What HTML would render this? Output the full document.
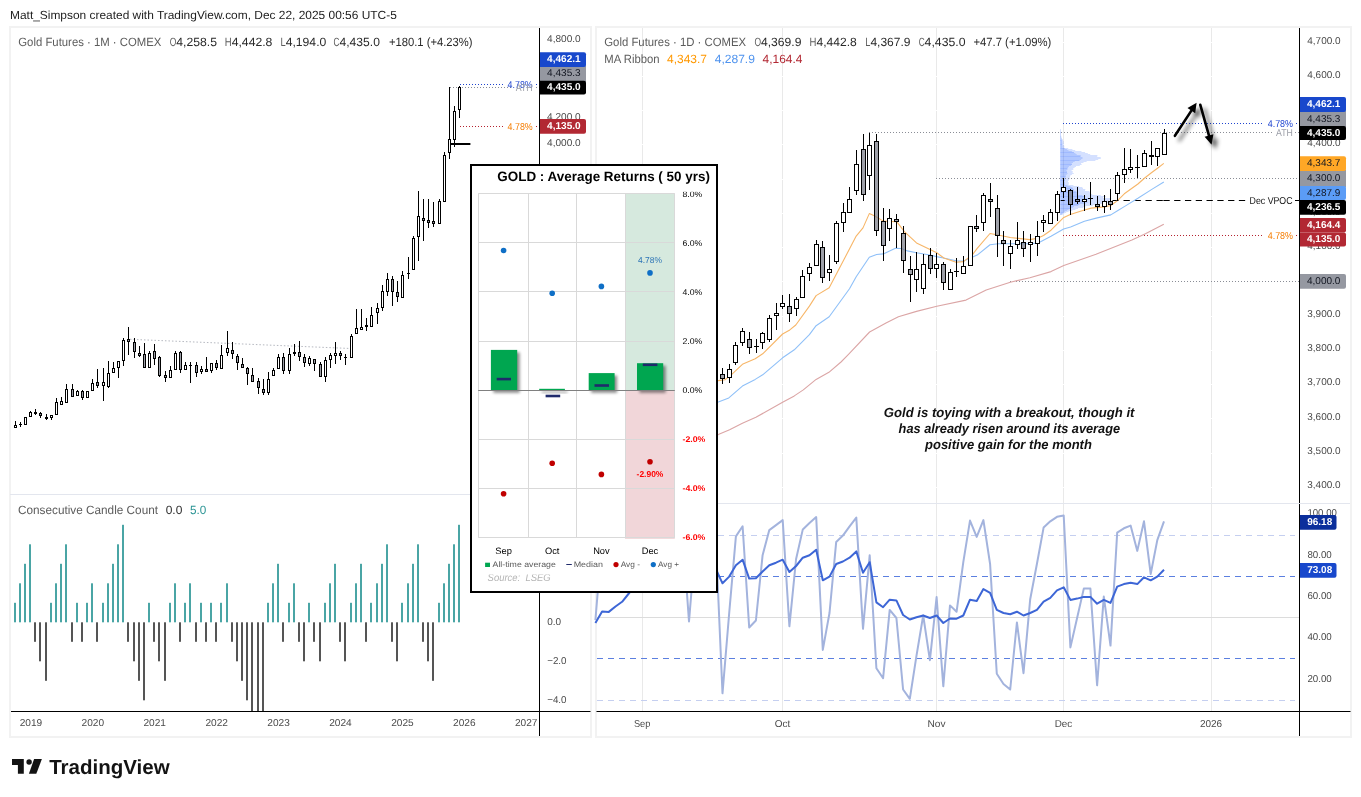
<!DOCTYPE html>
<html><head><meta charset="utf-8"><title>Gold Futures chart</title>
<style>html,body{margin:0;padding:0;background:#fff}svg{display:block}text{font-family:'Liberation Sans', Arial, sans-serif;white-space:pre;text-rendering:geometricPrecision}</style></head>
<body>
<svg width="1361" height="797" viewBox="0 0 1361 797">
<rect x="0" y="0" width="1361" height="797" fill="#fff"/>
<rect x="10" y="27" width="581" height="710" fill="#fff" stroke="#f2f2f2" stroke-width="2"/>
<rect x="596" y="27" width="755" height="710" fill="#fff" stroke="#f2f2f2" stroke-width="2"/>
<line x1="642.5" y1="28" x2="642.5" y2="711" stroke="#e9e9e9" stroke-width="1"/>
<line x1="782.5" y1="28" x2="782.5" y2="711" stroke="#e9e9e9" stroke-width="1"/>
<line x1="936.5" y1="28" x2="936.5" y2="711" stroke="#e9e9e9" stroke-width="1"/>
<line x1="1063.5" y1="28" x2="1063.5" y2="711" stroke="#e9e9e9" stroke-width="1"/>
<line x1="1211.5" y1="28" x2="1211.5" y2="711" stroke="#e9e9e9" stroke-width="1"/>
<line x1="597" y1="42.5" x2="1299" y2="42.5" stroke="#fff" stroke-width="1"/>
<line x1="597" y1="76.5" x2="1299" y2="76.5" stroke="#fff" stroke-width="1"/>
<line x1="597" y1="110.5" x2="1299" y2="110.5" stroke="#fff" stroke-width="1"/>
<line x1="597" y1="144.5" x2="1299" y2="144.5" stroke="#fff" stroke-width="1"/>
<line x1="597" y1="179.5" x2="1299" y2="179.5" stroke="#fff" stroke-width="1"/>
<line x1="597" y1="213.5" x2="1299" y2="213.5" stroke="#fff" stroke-width="1"/>
<line x1="597" y1="247.5" x2="1299" y2="247.5" stroke="#fff" stroke-width="1"/>
<line x1="597" y1="281.5" x2="1299" y2="281.5" stroke="#fff" stroke-width="1"/>
<line x1="597" y1="316.5" x2="1299" y2="316.5" stroke="#fff" stroke-width="1"/>
<line x1="597" y1="350.5" x2="1299" y2="350.5" stroke="#fff" stroke-width="1"/>
<line x1="597" y1="384.5" x2="1299" y2="384.5" stroke="#fff" stroke-width="1"/>
<line x1="597" y1="418.5" x2="1299" y2="418.5" stroke="#fff" stroke-width="1"/>
<line x1="597" y1="453.5" x2="1299" y2="453.5" stroke="#fff" stroke-width="1"/>
<line x1="597" y1="487.5" x2="1299" y2="487.5" stroke="#fff" stroke-width="1"/>
<line x1="597" y1="503.5" x2="1350" y2="503.5" stroke="#e0e3eb" stroke-width="1"/>
<rect x="1060.2" y="129.0" width="0.5" height="1" fill="#2962ff" fill-opacity="0.2"/>
<rect x="1060.2" y="129.0" width="0.3" height="1" fill="#2962ff" fill-opacity="0.2"/>
<rect x="1060.2" y="130.0" width="0.6" height="1" fill="#2962ff" fill-opacity="0.2"/>
<rect x="1060.2" y="130.0" width="0.3" height="1" fill="#2962ff" fill-opacity="0.2"/>
<rect x="1060.2" y="131.0" width="0.7" height="1" fill="#2962ff" fill-opacity="0.2"/>
<rect x="1060.2" y="131.0" width="0.4" height="1" fill="#2962ff" fill-opacity="0.2"/>
<rect x="1060.2" y="132.0" width="0.8" height="1" fill="#2962ff" fill-opacity="0.2"/>
<rect x="1060.2" y="132.0" width="0.4" height="1" fill="#2962ff" fill-opacity="0.2"/>
<rect x="1060.2" y="132.0" width="0.4" height="1" fill="#2962ff" fill-opacity="0.12"/>
<rect x="1060.2" y="133.0" width="0.8" height="1" fill="#2962ff" fill-opacity="0.2"/>
<rect x="1060.2" y="133.0" width="0.5" height="1" fill="#2962ff" fill-opacity="0.2"/>
<rect x="1060.2" y="134.0" width="0.8" height="1" fill="#2962ff" fill-opacity="0.2"/>
<rect x="1060.2" y="134.0" width="0.4" height="1" fill="#2962ff" fill-opacity="0.2"/>
<rect x="1060.2" y="135.0" width="0.9" height="1" fill="#2962ff" fill-opacity="0.2"/>
<rect x="1060.2" y="135.0" width="0.5" height="1" fill="#2962ff" fill-opacity="0.2"/>
<rect x="1060.2" y="136.0" width="1.1" height="1" fill="#2962ff" fill-opacity="0.2"/>
<rect x="1060.2" y="136.0" width="0.6" height="1" fill="#2962ff" fill-opacity="0.2"/>
<rect x="1060.2" y="136.0" width="0.6" height="1" fill="#2962ff" fill-opacity="0.12"/>
<rect x="1060.2" y="137.0" width="1.4" height="1" fill="#2962ff" fill-opacity="0.2"/>
<rect x="1060.2" y="137.0" width="0.8" height="1" fill="#2962ff" fill-opacity="0.2"/>
<rect x="1060.2" y="138.0" width="1.8" height="1" fill="#2962ff" fill-opacity="0.2"/>
<rect x="1060.2" y="138.0" width="1.0" height="1" fill="#2962ff" fill-opacity="0.2"/>
<rect x="1060.2" y="139.0" width="2.5" height="1" fill="#2962ff" fill-opacity="0.2"/>
<rect x="1060.2" y="139.0" width="1.4" height="1" fill="#2962ff" fill-opacity="0.2"/>
<rect x="1060.2" y="140.0" width="2.8" height="1" fill="#2962ff" fill-opacity="0.2"/>
<rect x="1060.2" y="140.0" width="1.5" height="1" fill="#2962ff" fill-opacity="0.2"/>
<rect x="1060.2" y="140.0" width="1.5" height="1" fill="#2962ff" fill-opacity="0.12"/>
<rect x="1060.2" y="141.0" width="3.4" height="1" fill="#2962ff" fill-opacity="0.2"/>
<rect x="1060.2" y="141.0" width="1.8" height="1" fill="#2962ff" fill-opacity="0.2"/>
<rect x="1060.2" y="142.0" width="3.4" height="1" fill="#2962ff" fill-opacity="0.2"/>
<rect x="1060.2" y="142.0" width="1.9" height="1" fill="#2962ff" fill-opacity="0.2"/>
<rect x="1060.2" y="143.0" width="3.6" height="1" fill="#2962ff" fill-opacity="0.2"/>
<rect x="1060.2" y="143.0" width="2.0" height="1" fill="#2962ff" fill-opacity="0.2"/>
<rect x="1060.2" y="144.0" width="3.5" height="1" fill="#2962ff" fill-opacity="0.2"/>
<rect x="1060.2" y="144.0" width="1.9" height="1" fill="#2962ff" fill-opacity="0.2"/>
<rect x="1060.2" y="144.0" width="1.9" height="1" fill="#2962ff" fill-opacity="0.12"/>
<rect x="1060.2" y="145.0" width="3.9" height="1" fill="#2962ff" fill-opacity="0.2"/>
<rect x="1060.2" y="145.0" width="2.1" height="1" fill="#2962ff" fill-opacity="0.2"/>
<rect x="1060.2" y="146.0" width="4.1" height="1" fill="#2962ff" fill-opacity="0.2"/>
<rect x="1060.2" y="146.0" width="2.3" height="1" fill="#2962ff" fill-opacity="0.2"/>
<rect x="1060.2" y="147.0" width="4.0" height="1" fill="#2962ff" fill-opacity="0.2"/>
<rect x="1060.2" y="147.0" width="2.2" height="1" fill="#2962ff" fill-opacity="0.2"/>
<rect x="1060.2" y="148.0" width="8.0" height="1" fill="#2962ff" fill-opacity="0.2"/>
<rect x="1060.2" y="148.0" width="4.4" height="1" fill="#2962ff" fill-opacity="0.2"/>
<rect x="1060.2" y="148.0" width="4.4" height="1" fill="#2962ff" fill-opacity="0.12"/>
<rect x="1060.2" y="149.0" width="12.2" height="1" fill="#2962ff" fill-opacity="0.2"/>
<rect x="1060.2" y="149.0" width="6.7" height="1" fill="#2962ff" fill-opacity="0.2"/>
<rect x="1060.2" y="150.0" width="15.0" height="1" fill="#2962ff" fill-opacity="0.2"/>
<rect x="1060.2" y="150.0" width="8.3" height="1" fill="#2962ff" fill-opacity="0.2"/>
<rect x="1060.2" y="151.0" width="21.3" height="1" fill="#2962ff" fill-opacity="0.2"/>
<rect x="1060.2" y="151.0" width="11.7" height="1" fill="#2962ff" fill-opacity="0.2"/>
<rect x="1060.2" y="152.0" width="24.9" height="1" fill="#2962ff" fill-opacity="0.2"/>
<rect x="1060.2" y="152.0" width="13.7" height="1" fill="#2962ff" fill-opacity="0.2"/>
<rect x="1060.2" y="152.0" width="13.7" height="1" fill="#2962ff" fill-opacity="0.12"/>
<rect x="1060.2" y="153.0" width="27.6" height="1" fill="#2962ff" fill-opacity="0.2"/>
<rect x="1060.2" y="153.0" width="15.2" height="1" fill="#2962ff" fill-opacity="0.2"/>
<rect x="1060.2" y="154.0" width="30.0" height="1" fill="#2962ff" fill-opacity="0.2"/>
<rect x="1060.2" y="154.0" width="16.5" height="1" fill="#2962ff" fill-opacity="0.2"/>
<rect x="1060.2" y="155.0" width="37.2" height="1" fill="#2962ff" fill-opacity="0.2"/>
<rect x="1060.2" y="155.0" width="20.5" height="1" fill="#2962ff" fill-opacity="0.2"/>
<rect x="1060.2" y="156.0" width="37.0" height="1" fill="#2962ff" fill-opacity="0.2"/>
<rect x="1060.2" y="156.0" width="20.3" height="1" fill="#2962ff" fill-opacity="0.2"/>
<rect x="1060.2" y="156.0" width="20.3" height="1" fill="#2962ff" fill-opacity="0.12"/>
<rect x="1060.2" y="157.0" width="40.5" height="1" fill="#2962ff" fill-opacity="0.2"/>
<rect x="1060.2" y="157.0" width="22.3" height="1" fill="#2962ff" fill-opacity="0.2"/>
<rect x="1060.2" y="158.0" width="40.6" height="1" fill="#2962ff" fill-opacity="0.2"/>
<rect x="1060.2" y="158.0" width="22.3" height="1" fill="#2962ff" fill-opacity="0.2"/>
<rect x="1060.2" y="159.0" width="38.0" height="1" fill="#2962ff" fill-opacity="0.2"/>
<rect x="1060.2" y="159.0" width="20.9" height="1" fill="#2962ff" fill-opacity="0.2"/>
<rect x="1060.2" y="160.0" width="35.2" height="1" fill="#2962ff" fill-opacity="0.2"/>
<rect x="1060.2" y="160.0" width="19.3" height="1" fill="#2962ff" fill-opacity="0.2"/>
<rect x="1060.2" y="160.0" width="19.3" height="1" fill="#2962ff" fill-opacity="0.12"/>
<rect x="1060.2" y="161.0" width="26.4" height="1" fill="#2962ff" fill-opacity="0.2"/>
<rect x="1060.2" y="161.0" width="14.5" height="1" fill="#2962ff" fill-opacity="0.2"/>
<rect x="1060.2" y="162.0" width="23.3" height="1" fill="#2962ff" fill-opacity="0.2"/>
<rect x="1060.2" y="162.0" width="12.8" height="1" fill="#2962ff" fill-opacity="0.2"/>
<rect x="1060.2" y="163.0" width="20.9" height="1" fill="#2962ff" fill-opacity="0.2"/>
<rect x="1060.2" y="163.0" width="11.5" height="1" fill="#2962ff" fill-opacity="0.2"/>
<rect x="1060.2" y="164.0" width="21.4" height="1" fill="#2962ff" fill-opacity="0.2"/>
<rect x="1060.2" y="164.0" width="11.8" height="1" fill="#2962ff" fill-opacity="0.2"/>
<rect x="1060.2" y="164.0" width="11.8" height="1" fill="#2962ff" fill-opacity="0.12"/>
<rect x="1060.2" y="165.0" width="19.6" height="1" fill="#2962ff" fill-opacity="0.2"/>
<rect x="1060.2" y="165.0" width="10.8" height="1" fill="#2962ff" fill-opacity="0.2"/>
<rect x="1060.2" y="166.0" width="15.8" height="1" fill="#2962ff" fill-opacity="0.2"/>
<rect x="1060.2" y="166.0" width="8.7" height="1" fill="#2962ff" fill-opacity="0.2"/>
<rect x="1060.2" y="167.0" width="14.4" height="1" fill="#2962ff" fill-opacity="0.2"/>
<rect x="1060.2" y="167.0" width="7.9" height="1" fill="#2962ff" fill-opacity="0.2"/>
<rect x="1060.2" y="168.0" width="13.1" height="1" fill="#2962ff" fill-opacity="0.2"/>
<rect x="1060.2" y="168.0" width="7.2" height="1" fill="#2962ff" fill-opacity="0.2"/>
<rect x="1060.2" y="168.0" width="7.2" height="1" fill="#2962ff" fill-opacity="0.12"/>
<rect x="1060.2" y="169.0" width="13.1" height="1" fill="#2962ff" fill-opacity="0.2"/>
<rect x="1060.2" y="169.0" width="7.2" height="1" fill="#2962ff" fill-opacity="0.2"/>
<rect x="1060.2" y="170.0" width="11.4" height="1" fill="#2962ff" fill-opacity="0.2"/>
<rect x="1060.2" y="170.0" width="6.3" height="1" fill="#2962ff" fill-opacity="0.2"/>
<rect x="1060.2" y="171.0" width="12.5" height="1" fill="#2962ff" fill-opacity="0.2"/>
<rect x="1060.2" y="171.0" width="6.8" height="1" fill="#2962ff" fill-opacity="0.2"/>
<rect x="1060.2" y="172.0" width="12.4" height="1" fill="#2962ff" fill-opacity="0.2"/>
<rect x="1060.2" y="172.0" width="6.8" height="1" fill="#2962ff" fill-opacity="0.2"/>
<rect x="1060.2" y="172.0" width="6.8" height="1" fill="#2962ff" fill-opacity="0.12"/>
<rect x="1060.2" y="173.0" width="13.5" height="1" fill="#2962ff" fill-opacity="0.2"/>
<rect x="1060.2" y="173.0" width="7.4" height="1" fill="#2962ff" fill-opacity="0.2"/>
<rect x="1060.2" y="174.0" width="11.8" height="1" fill="#2962ff" fill-opacity="0.2"/>
<rect x="1060.2" y="174.0" width="6.5" height="1" fill="#2962ff" fill-opacity="0.2"/>
<rect x="1060.2" y="175.0" width="10.2" height="1" fill="#2962ff" fill-opacity="0.2"/>
<rect x="1060.2" y="175.0" width="5.6" height="1" fill="#2962ff" fill-opacity="0.2"/>
<rect x="1060.2" y="176.0" width="9.9" height="1" fill="#2962ff" fill-opacity="0.2"/>
<rect x="1060.2" y="176.0" width="5.5" height="1" fill="#2962ff" fill-opacity="0.2"/>
<rect x="1060.2" y="176.0" width="5.5" height="1" fill="#2962ff" fill-opacity="0.12"/>
<rect x="1060.2" y="177.0" width="9.6" height="1" fill="#2962ff" fill-opacity="0.2"/>
<rect x="1060.2" y="177.0" width="5.3" height="1" fill="#2962ff" fill-opacity="0.2"/>
<rect x="1060.2" y="178.0" width="9.8" height="1" fill="#2962ff" fill-opacity="0.2"/>
<rect x="1060.2" y="178.0" width="5.4" height="1" fill="#2962ff" fill-opacity="0.2"/>
<rect x="1060.2" y="179.0" width="9.0" height="1" fill="#2962ff" fill-opacity="0.2"/>
<rect x="1060.2" y="179.0" width="5.0" height="1" fill="#2962ff" fill-opacity="0.2"/>
<rect x="1060.2" y="180.0" width="8.5" height="1" fill="#2962ff" fill-opacity="0.2"/>
<rect x="1060.2" y="180.0" width="4.7" height="1" fill="#2962ff" fill-opacity="0.2"/>
<rect x="1060.2" y="180.0" width="4.7" height="1" fill="#2962ff" fill-opacity="0.12"/>
<rect x="1060.2" y="181.0" width="7.8" height="1" fill="#2962ff" fill-opacity="0.2"/>
<rect x="1060.2" y="181.0" width="4.3" height="1" fill="#2962ff" fill-opacity="0.2"/>
<rect x="1060.2" y="182.0" width="8.5" height="1" fill="#2962ff" fill-opacity="0.2"/>
<rect x="1060.2" y="182.0" width="4.7" height="1" fill="#2962ff" fill-opacity="0.2"/>
<rect x="1060.2" y="183.0" width="8.6" height="1" fill="#2962ff" fill-opacity="0.2"/>
<rect x="1060.2" y="183.0" width="4.7" height="1" fill="#2962ff" fill-opacity="0.2"/>
<rect x="1060.2" y="184.0" width="8.4" height="1" fill="#2962ff" fill-opacity="0.2"/>
<rect x="1060.2" y="184.0" width="4.6" height="1" fill="#2962ff" fill-opacity="0.2"/>
<rect x="1060.2" y="184.0" width="4.6" height="1" fill="#2962ff" fill-opacity="0.12"/>
<rect x="1060.2" y="185.0" width="13.2" height="1" fill="#2962ff" fill-opacity="0.2"/>
<rect x="1060.2" y="185.0" width="7.3" height="1" fill="#2962ff" fill-opacity="0.2"/>
<rect x="1060.2" y="186.0" width="18.8" height="1" fill="#2962ff" fill-opacity="0.2"/>
<rect x="1060.2" y="186.0" width="10.3" height="1" fill="#2962ff" fill-opacity="0.2"/>
<rect x="1060.2" y="187.0" width="22.2" height="1" fill="#2962ff" fill-opacity="0.2"/>
<rect x="1060.2" y="187.0" width="12.2" height="1" fill="#2962ff" fill-opacity="0.2"/>
<rect x="1060.2" y="188.0" width="22.8" height="1" fill="#2962ff" fill-opacity="0.2"/>
<rect x="1060.2" y="188.0" width="12.6" height="1" fill="#2962ff" fill-opacity="0.2"/>
<rect x="1060.2" y="188.0" width="12.6" height="1" fill="#2962ff" fill-opacity="0.12"/>
<rect x="1060.2" y="189.0" width="25.1" height="1" fill="#2962ff" fill-opacity="0.2"/>
<rect x="1060.2" y="189.0" width="13.8" height="1" fill="#2962ff" fill-opacity="0.2"/>
<rect x="1060.2" y="190.0" width="24.8" height="1" fill="#2962ff" fill-opacity="0.2"/>
<rect x="1060.2" y="190.0" width="13.6" height="1" fill="#2962ff" fill-opacity="0.2"/>
<rect x="1060.2" y="191.0" width="29.2" height="1" fill="#2962ff" fill-opacity="0.2"/>
<rect x="1060.2" y="191.0" width="16.0" height="1" fill="#2962ff" fill-opacity="0.2"/>
<rect x="1060.2" y="192.0" width="29.7" height="1" fill="#2962ff" fill-opacity="0.2"/>
<rect x="1060.2" y="192.0" width="16.4" height="1" fill="#2962ff" fill-opacity="0.2"/>
<rect x="1060.2" y="192.0" width="16.4" height="1" fill="#2962ff" fill-opacity="0.12"/>
<rect x="1060.2" y="193.0" width="30.0" height="1" fill="#2962ff" fill-opacity="0.2"/>
<rect x="1060.2" y="193.0" width="16.5" height="1" fill="#2962ff" fill-opacity="0.2"/>
<rect x="1060.2" y="194.0" width="32.0" height="1" fill="#2962ff" fill-opacity="0.2"/>
<rect x="1060.2" y="194.0" width="17.6" height="1" fill="#2962ff" fill-opacity="0.2"/>
<rect x="1060.2" y="195.0" width="40.5" height="1" fill="#2962ff" fill-opacity="0.2"/>
<rect x="1060.2" y="195.0" width="22.3" height="1" fill="#2962ff" fill-opacity="0.2"/>
<rect x="1060.2" y="196.0" width="45.6" height="1" fill="#2962ff" fill-opacity="0.2"/>
<rect x="1060.2" y="196.0" width="25.1" height="1" fill="#2962ff" fill-opacity="0.2"/>
<rect x="1060.2" y="196.0" width="25.1" height="1" fill="#2962ff" fill-opacity="0.12"/>
<rect x="1060.2" y="197.0" width="42.8" height="1" fill="#2962ff" fill-opacity="0.2"/>
<rect x="1060.2" y="197.0" width="23.6" height="1" fill="#2962ff" fill-opacity="0.2"/>
<rect x="1060.2" y="198.0" width="51.1" height="1" fill="#2962ff" fill-opacity="0.2"/>
<rect x="1060.2" y="198.0" width="28.1" height="1" fill="#2962ff" fill-opacity="0.2"/>
<rect x="1060.2" y="199.0" width="50.8" height="1" fill="#2962ff" fill-opacity="0.2"/>
<rect x="1060.2" y="199.0" width="28.0" height="1" fill="#2962ff" fill-opacity="0.2"/>
<rect x="1060.2" y="200.0" width="49.1" height="1" fill="#2962ff" fill-opacity="0.2"/>
<rect x="1060.2" y="200.0" width="27.0" height="1" fill="#2962ff" fill-opacity="0.2"/>
<rect x="1060.2" y="200.0" width="27.0" height="1" fill="#2962ff" fill-opacity="0.12"/>
<rect x="1060.2" y="201.0" width="48.3" height="1" fill="#2962ff" fill-opacity="0.2"/>
<rect x="1060.2" y="201.0" width="26.5" height="1" fill="#2962ff" fill-opacity="0.2"/>
<rect x="1060.2" y="202.0" width="49.9" height="1" fill="#2962ff" fill-opacity="0.2"/>
<rect x="1060.2" y="202.0" width="27.4" height="1" fill="#2962ff" fill-opacity="0.2"/>
<rect x="1060.2" y="203.0" width="46.0" height="1" fill="#2962ff" fill-opacity="0.2"/>
<rect x="1060.2" y="203.0" width="25.3" height="1" fill="#2962ff" fill-opacity="0.2"/>
<rect x="1060.2" y="204.0" width="34.8" height="1" fill="#2962ff" fill-opacity="0.2"/>
<rect x="1060.2" y="204.0" width="19.1" height="1" fill="#2962ff" fill-opacity="0.2"/>
<rect x="1060.2" y="204.0" width="19.1" height="1" fill="#2962ff" fill-opacity="0.12"/>
<rect x="1060.2" y="205.0" width="32.6" height="1" fill="#2962ff" fill-opacity="0.2"/>
<rect x="1060.2" y="205.0" width="17.9" height="1" fill="#2962ff" fill-opacity="0.2"/>
<rect x="1060.2" y="206.0" width="25.1" height="1" fill="#2962ff" fill-opacity="0.2"/>
<rect x="1060.2" y="206.0" width="13.8" height="1" fill="#2962ff" fill-opacity="0.2"/>
<rect x="1060.2" y="207.0" width="23.0" height="1" fill="#2962ff" fill-opacity="0.2"/>
<rect x="1060.2" y="207.0" width="12.6" height="1" fill="#2962ff" fill-opacity="0.2"/>
<rect x="1060.2" y="208.0" width="17.8" height="1" fill="#2962ff" fill-opacity="0.2"/>
<rect x="1060.2" y="208.0" width="9.8" height="1" fill="#2962ff" fill-opacity="0.2"/>
<rect x="1060.2" y="208.0" width="9.8" height="1" fill="#2962ff" fill-opacity="0.12"/>
<rect x="1060.2" y="209.0" width="15.2" height="1" fill="#2962ff" fill-opacity="0.2"/>
<rect x="1060.2" y="209.0" width="8.3" height="1" fill="#2962ff" fill-opacity="0.2"/>
<rect x="1060.2" y="210.0" width="12.1" height="1" fill="#2962ff" fill-opacity="0.2"/>
<rect x="1060.2" y="210.0" width="6.7" height="1" fill="#2962ff" fill-opacity="0.2"/>
<rect x="1060.2" y="211.0" width="8.4" height="1" fill="#2962ff" fill-opacity="0.2"/>
<rect x="1060.2" y="211.0" width="4.6" height="1" fill="#2962ff" fill-opacity="0.2"/>
<rect x="1060.2" y="212.0" width="6.0" height="1" fill="#2962ff" fill-opacity="0.2"/>
<rect x="1060.2" y="212.0" width="3.3" height="1" fill="#2962ff" fill-opacity="0.2"/>
<rect x="1060.2" y="212.0" width="3.3" height="1" fill="#2962ff" fill-opacity="0.12"/>
<rect x="1060.2" y="213.0" width="4.0" height="1" fill="#2962ff" fill-opacity="0.2"/>
<rect x="1060.2" y="213.0" width="2.2" height="1" fill="#2962ff" fill-opacity="0.2"/>
<rect x="1060.2" y="214.0" width="2.5" height="1" fill="#2962ff" fill-opacity="0.2"/>
<rect x="1060.2" y="214.0" width="1.4" height="1" fill="#2962ff" fill-opacity="0.2"/>
<line x1="869.0" y1="132.5" x2="1273.0" y2="132.5" stroke="#8a8d96" stroke-width="1" stroke-dasharray="1 2"/>
<line x1="1295.0" y1="132.5" x2="1299.0" y2="132.5" stroke="#8a8d96" stroke-width="1" stroke-dasharray="1 2"/>
<line x1="936.0" y1="178.5" x2="1299.0" y2="178.5" stroke="#8a8d96" stroke-width="1" stroke-dasharray="1 2"/>
<line x1="1010.0" y1="281.5" x2="1299.0" y2="281.5" stroke="#8a8d96" stroke-width="1" stroke-dasharray="1 2"/>
<line x1="1063.0" y1="123.5" x2="1262.0" y2="123.5" stroke="#1e44d0" stroke-width="1" stroke-dasharray="1 2"/>
<line x1="1296.0" y1="123.5" x2="1299.0" y2="123.5" stroke="#1e44d0" stroke-width="1" stroke-dasharray="1 2"/>
<line x1="1063.0" y1="235.5" x2="1262.0" y2="235.5" stroke="#b5222f" stroke-width="1" stroke-dasharray="1 2"/>
<line x1="1296.0" y1="235.5" x2="1299.0" y2="235.5" stroke="#b5222f" stroke-width="1" stroke-dasharray="1 2"/>
<line x1="1060.7" y1="200.5" x2="1064.7" y2="200.5" stroke="#000" stroke-width="1"/>
<line x1="1112.5" y1="200.5" x2="1169" y2="200.5" stroke="#000" stroke-width="1" stroke-dasharray="6.3 4.7"/>
<line x1="1163.4" y1="200.5" x2="1246" y2="200.5" stroke="#000" stroke-width="1" stroke-dasharray="6.3 4.48"/>
<line x1="1295" y1="200.5" x2="1299" y2="200.5" stroke="#000" stroke-width="1"/>
<polyline points="596.0,470.0 718.3,434.6 729.6,429.8 742.4,423.3 755.9,417.3 782.6,402.3 794.3,395.9 803.3,389.9 816.1,379.4 828.9,372.3 841.0,362.0 848.5,354.3 869.6,332.0 886.0,323.0 898.4,316.7 916.5,311.4 936.8,306.2 966.0,300.1 986.2,290.0 1010.3,282.2 1029.9,277.7 1051.0,271.6 1063.8,265.6 1096.0,254.3 1131.9,240.0 1145.4,233.7 1163.8,224.2" fill="none" stroke="#dba5a5" stroke-width="1.1" stroke-opacity="1" stroke-linejoin="round"/>
<polyline points="596.0,440.0 718.3,402.0 728.8,397.9 742.4,386.1 755.2,379.4 762.7,374.8 782.6,357.8 794.3,349.8 809.4,334.7 816.1,325.7 829.2,316.7 849.5,288.8 856.2,276.8 869.3,257.2 876.6,254.5 883.3,253.9 895.4,248.2 901.4,248.5 907.4,250.9 916.5,252.7 930.0,255.0 936.5,256.6 943.6,258.0 956.1,260.8 963.6,261.1 977.2,255.1 990.0,244.8 998.3,243.8 1010.3,243.8 1029.9,243.8 1038.2,243.0 1051.0,236.3 1063.6,229.1 1070.6,226.9 1084.4,221.2 1097.2,217.9 1110.8,214.9 1117.5,210.8 1124.3,206.6 1137.9,198.3 1151.4,189.6 1163.8,182.0" fill="none" stroke="#8fc0f8" stroke-width="1.1" stroke-opacity="1" stroke-linejoin="round"/>
<polyline points="596.0,420.0 718.3,380.6 725.0,379.7 731.8,374.4 742.4,364.3 755.2,358.7 762.7,353.8 782.6,334.0 789.8,329.9 795.8,325.0 809.4,306.1 816.1,295.6 829.2,287.8 856.2,236.1 863.0,227.9 869.3,213.6 874.3,215.8 883.3,221.1 896.9,221.8 904.4,231.6 916.5,242.9 936.8,252.7 943.8,258.0 956.1,262.2 963.6,261.6 972.7,254.3 977.2,248.3 990.0,233.5 996.8,234.7 1010.3,237.5 1029.9,239.6 1038.2,238.1 1043.5,235.5 1051.0,230.2 1063.8,217.4 1070.3,214.6 1084.4,210.0 1091.2,208.1 1104.7,206.9 1110.8,205.5 1117.5,200.6 1124.3,193.8 1137.9,184.0 1144.7,178.0 1151.4,172.7 1157.5,168.2 1163.8,163.4" fill="none" stroke="#f7b668" stroke-width="1.1" stroke-opacity="1" stroke-linejoin="round"/>
<line x1="722.5" y1="368" x2="722.5" y2="374" stroke="#000" stroke-width="1"/>
<line x1="722.5" y1="379" x2="722.5" y2="384" stroke="#000" stroke-width="1"/>
<rect x="720.5" y="374.5" width="4" height="4" fill="#787b86" fill-opacity="0.72" stroke="#000" stroke-width="1"/>
<line x1="729.5" y1="364" x2="729.5" y2="369" stroke="#000" stroke-width="1"/>
<line x1="729.5" y1="378" x2="729.5" y2="383" stroke="#000" stroke-width="1"/>
<rect x="727.5" y="369.5" width="4" height="8" fill="#fff" stroke="#000" stroke-width="1"/>
<line x1="735.5" y1="342" x2="735.5" y2="345" stroke="#000" stroke-width="1"/>
<line x1="735.5" y1="363" x2="735.5" y2="365" stroke="#000" stroke-width="1"/>
<rect x="733.5" y="345.5" width="4" height="17" fill="#fff" stroke="#000" stroke-width="1"/>
<line x1="742.5" y1="328" x2="742.5" y2="331" stroke="#000" stroke-width="1"/>
<line x1="742.5" y1="343" x2="742.5" y2="346" stroke="#000" stroke-width="1"/>
<rect x="740.5" y="331.5" width="4" height="11" fill="#fff" stroke="#000" stroke-width="1"/>
<line x1="749.5" y1="332" x2="749.5" y2="339" stroke="#000" stroke-width="1"/>
<line x1="749.5" y1="348" x2="749.5" y2="354" stroke="#000" stroke-width="1"/>
<rect x="747.5" y="339.5" width="4" height="8" fill="#787b86" fill-opacity="0.72" stroke="#000" stroke-width="1"/>
<line x1="756.5" y1="339" x2="756.5" y2="346" stroke="#000" stroke-width="1"/>
<line x1="756.5" y1="347" x2="756.5" y2="353" stroke="#000" stroke-width="1"/>
<rect x="754.0" y="346" width="5" height="1" fill="#000"/>
<line x1="762.5" y1="332" x2="762.5" y2="333" stroke="#000" stroke-width="1"/>
<line x1="762.5" y1="343" x2="762.5" y2="349" stroke="#000" stroke-width="1"/>
<rect x="760.5" y="333.5" width="4" height="9" fill="#fff" stroke="#000" stroke-width="1"/>
<line x1="769.5" y1="315" x2="769.5" y2="318" stroke="#000" stroke-width="1"/>
<line x1="769.5" y1="340" x2="769.5" y2="342" stroke="#000" stroke-width="1"/>
<rect x="767.5" y="318.5" width="4" height="21" fill="#fff" stroke="#000" stroke-width="1"/>
<line x1="776.5" y1="303" x2="776.5" y2="313" stroke="#000" stroke-width="1"/>
<line x1="776.5" y1="316" x2="776.5" y2="330" stroke="#000" stroke-width="1"/>
<rect x="774.5" y="313.5" width="4" height="2" fill="#fff" stroke="#000" stroke-width="1"/>
<line x1="782.5" y1="295" x2="782.5" y2="303" stroke="#000" stroke-width="1"/>
<line x1="782.5" y1="307" x2="782.5" y2="309" stroke="#000" stroke-width="1"/>
<rect x="780.5" y="303.5" width="4" height="3" fill="#fff" stroke="#000" stroke-width="1"/>
<line x1="789.5" y1="294" x2="789.5" y2="306" stroke="#000" stroke-width="1"/>
<line x1="789.5" y1="314" x2="789.5" y2="322" stroke="#000" stroke-width="1"/>
<rect x="787.5" y="306.5" width="4" height="7" fill="#787b86" fill-opacity="0.72" stroke="#000" stroke-width="1"/>
<line x1="796.5" y1="297" x2="796.5" y2="299" stroke="#000" stroke-width="1"/>
<line x1="796.5" y1="309" x2="796.5" y2="316" stroke="#000" stroke-width="1"/>
<rect x="794.5" y="299.5" width="4" height="9" fill="#fff" stroke="#000" stroke-width="1"/>
<line x1="802.5" y1="270" x2="802.5" y2="276" stroke="#000" stroke-width="1"/>
<rect x="800.5" y="276.5" width="4" height="21" fill="#fff" stroke="#000" stroke-width="1"/>
<line x1="809.5" y1="263" x2="809.5" y2="267" stroke="#000" stroke-width="1"/>
<line x1="809.5" y1="274" x2="809.5" y2="281" stroke="#000" stroke-width="1"/>
<rect x="807.5" y="267.5" width="4" height="6" fill="#fff" stroke="#000" stroke-width="1"/>
<line x1="816.5" y1="240" x2="816.5" y2="244" stroke="#000" stroke-width="1"/>
<rect x="814.5" y="244.5" width="4" height="21" fill="#fff" stroke="#000" stroke-width="1"/>
<line x1="822.5" y1="241" x2="822.5" y2="247" stroke="#000" stroke-width="1"/>
<line x1="822.5" y1="278" x2="822.5" y2="283" stroke="#000" stroke-width="1"/>
<rect x="820.5" y="247.5" width="4" height="30" fill="#787b86" fill-opacity="0.72" stroke="#000" stroke-width="1"/>
<line x1="829.5" y1="255" x2="829.5" y2="269" stroke="#000" stroke-width="1"/>
<line x1="829.5" y1="273" x2="829.5" y2="281" stroke="#000" stroke-width="1"/>
<rect x="827.5" y="269.5" width="4" height="3" fill="#fff" stroke="#000" stroke-width="1"/>
<line x1="836.5" y1="221" x2="836.5" y2="223" stroke="#000" stroke-width="1"/>
<line x1="836.5" y1="262" x2="836.5" y2="264" stroke="#000" stroke-width="1"/>
<rect x="834.5" y="223.5" width="4" height="38" fill="#fff" stroke="#000" stroke-width="1"/>
<line x1="843.5" y1="203" x2="843.5" y2="212" stroke="#000" stroke-width="1"/>
<line x1="843.5" y1="223" x2="843.5" y2="232" stroke="#000" stroke-width="1"/>
<rect x="841.5" y="212.5" width="4" height="10" fill="#fff" stroke="#000" stroke-width="1"/>
<line x1="849.5" y1="187" x2="849.5" y2="199" stroke="#000" stroke-width="1"/>
<rect x="847.5" y="199.5" width="4" height="13" fill="#fff" stroke="#000" stroke-width="1"/>
<line x1="856.5" y1="150" x2="856.5" y2="164" stroke="#000" stroke-width="1"/>
<line x1="856.5" y1="191" x2="856.5" y2="195" stroke="#000" stroke-width="1"/>
<rect x="854.5" y="164.5" width="4" height="26" fill="#fff" stroke="#000" stroke-width="1"/>
<line x1="863.5" y1="134" x2="863.5" y2="149" stroke="#000" stroke-width="1"/>
<line x1="863.5" y1="195" x2="863.5" y2="201" stroke="#000" stroke-width="1"/>
<rect x="861.5" y="149.5" width="4" height="45" fill="#787b86" fill-opacity="0.72" stroke="#000" stroke-width="1"/>
<line x1="869.5" y1="133" x2="869.5" y2="145" stroke="#000" stroke-width="1"/>
<line x1="869.5" y1="176" x2="869.5" y2="190" stroke="#000" stroke-width="1"/>
<rect x="867.5" y="145.5" width="4" height="30" fill="#fff" stroke="#000" stroke-width="1"/>
<line x1="876.5" y1="134" x2="876.5" y2="141" stroke="#000" stroke-width="1"/>
<line x1="876.5" y1="231" x2="876.5" y2="236" stroke="#000" stroke-width="1"/>
<rect x="874.5" y="141.5" width="4" height="89" fill="#787b86" fill-opacity="0.72" stroke="#000" stroke-width="1"/>
<line x1="883.5" y1="208" x2="883.5" y2="221" stroke="#000" stroke-width="1"/>
<line x1="883.5" y1="246" x2="883.5" y2="261" stroke="#000" stroke-width="1"/>
<rect x="881.5" y="221.5" width="4" height="24" fill="#787b86" fill-opacity="0.72" stroke="#000" stroke-width="1"/>
<line x1="889.5" y1="209" x2="889.5" y2="218" stroke="#000" stroke-width="1"/>
<line x1="889.5" y1="229" x2="889.5" y2="241" stroke="#000" stroke-width="1"/>
<rect x="887.5" y="218.5" width="4" height="10" fill="#fff" stroke="#000" stroke-width="1"/>
<line x1="896.5" y1="214" x2="896.5" y2="219" stroke="#000" stroke-width="1"/>
<line x1="896.5" y1="222" x2="896.5" y2="248" stroke="#000" stroke-width="1"/>
<rect x="894.5" y="219.5" width="4" height="2" fill="#787b86" fill-opacity="0.72" stroke="#000" stroke-width="1"/>
<line x1="903.5" y1="226" x2="903.5" y2="233" stroke="#000" stroke-width="1"/>
<line x1="903.5" y1="261" x2="903.5" y2="273" stroke="#000" stroke-width="1"/>
<rect x="901.5" y="233.5" width="4" height="27" fill="#787b86" fill-opacity="0.72" stroke="#000" stroke-width="1"/>
<line x1="910.5" y1="256" x2="910.5" y2="269" stroke="#000" stroke-width="1"/>
<line x1="910.5" y1="275" x2="910.5" y2="302" stroke="#000" stroke-width="1"/>
<rect x="908.5" y="269.5" width="4" height="5" fill="#787b86" fill-opacity="0.72" stroke="#000" stroke-width="1"/>
<line x1="916.5" y1="252" x2="916.5" y2="269" stroke="#000" stroke-width="1"/>
<line x1="916.5" y1="280" x2="916.5" y2="292" stroke="#000" stroke-width="1"/>
<rect x="914.5" y="269.5" width="4" height="10" fill="#fff" stroke="#000" stroke-width="1"/>
<line x1="923.5" y1="254" x2="923.5" y2="264" stroke="#000" stroke-width="1"/>
<line x1="923.5" y1="289" x2="923.5" y2="294" stroke="#000" stroke-width="1"/>
<rect x="921.5" y="264.5" width="4" height="24" fill="#fff" stroke="#000" stroke-width="1"/>
<line x1="930.5" y1="248" x2="930.5" y2="255" stroke="#000" stroke-width="1"/>
<line x1="930.5" y1="269" x2="930.5" y2="274" stroke="#000" stroke-width="1"/>
<rect x="928.5" y="255.5" width="4" height="13" fill="#787b86" fill-opacity="0.72" stroke="#000" stroke-width="1"/>
<line x1="936.5" y1="253" x2="936.5" y2="264" stroke="#000" stroke-width="1"/>
<line x1="936.5" y1="269" x2="936.5" y2="278" stroke="#000" stroke-width="1"/>
<rect x="934.5" y="264.5" width="4" height="4" fill="#fff" stroke="#000" stroke-width="1"/>
<line x1="943.5" y1="262" x2="943.5" y2="264" stroke="#000" stroke-width="1"/>
<line x1="943.5" y1="283" x2="943.5" y2="290" stroke="#000" stroke-width="1"/>
<rect x="941.5" y="264.5" width="4" height="18" fill="#787b86" fill-opacity="0.72" stroke="#000" stroke-width="1"/>
<line x1="950.5" y1="269" x2="950.5" y2="272" stroke="#000" stroke-width="1"/>
<rect x="948.5" y="272.5" width="4" height="17" fill="#fff" stroke="#000" stroke-width="1"/>
<line x1="956.5" y1="258" x2="956.5" y2="271" stroke="#000" stroke-width="1"/>
<line x1="956.5" y1="272" x2="956.5" y2="277" stroke="#000" stroke-width="1"/>
<rect x="954.0" y="271" width="5" height="1" fill="#000"/>
<line x1="963.5" y1="256" x2="963.5" y2="266" stroke="#000" stroke-width="1"/>
<rect x="961.5" y="266.5" width="4" height="7" fill="#fff" stroke="#000" stroke-width="1"/>
<rect x="968.5" y="226.5" width="4" height="39" fill="#fff" stroke="#000" stroke-width="1"/>
<line x1="976.5" y1="215" x2="976.5" y2="226" stroke="#000" stroke-width="1"/>
<line x1="976.5" y1="229" x2="976.5" y2="232" stroke="#000" stroke-width="1"/>
<rect x="974.5" y="226.5" width="4" height="2" fill="#787b86" fill-opacity="0.72" stroke="#000" stroke-width="1"/>
<line x1="983.5" y1="193" x2="983.5" y2="195" stroke="#000" stroke-width="1"/>
<line x1="983.5" y1="223" x2="983.5" y2="231" stroke="#000" stroke-width="1"/>
<rect x="981.5" y="195.5" width="4" height="27" fill="#fff" stroke="#000" stroke-width="1"/>
<line x1="990.5" y1="183" x2="990.5" y2="199" stroke="#000" stroke-width="1"/>
<line x1="990.5" y1="202" x2="990.5" y2="217" stroke="#000" stroke-width="1"/>
<rect x="988.5" y="199.5" width="4" height="2" fill="#787b86" fill-opacity="0.72" stroke="#000" stroke-width="1"/>
<line x1="997.5" y1="195" x2="997.5" y2="208" stroke="#000" stroke-width="1"/>
<line x1="997.5" y1="236" x2="997.5" y2="257" stroke="#000" stroke-width="1"/>
<rect x="995.5" y="208.5" width="4" height="27" fill="#787b86" fill-opacity="0.72" stroke="#000" stroke-width="1"/>
<line x1="1003.5" y1="231" x2="1003.5" y2="240" stroke="#000" stroke-width="1"/>
<line x1="1003.5" y1="244" x2="1003.5" y2="266" stroke="#000" stroke-width="1"/>
<rect x="1001.5" y="240.5" width="4" height="3" fill="#787b86" fill-opacity="0.72" stroke="#000" stroke-width="1"/>
<line x1="1010.5" y1="240" x2="1010.5" y2="246" stroke="#000" stroke-width="1"/>
<line x1="1010.5" y1="254" x2="1010.5" y2="269" stroke="#000" stroke-width="1"/>
<rect x="1008.5" y="246.5" width="4" height="7" fill="#fff" stroke="#000" stroke-width="1"/>
<line x1="1017.5" y1="222" x2="1017.5" y2="240" stroke="#000" stroke-width="1"/>
<line x1="1017.5" y1="245" x2="1017.5" y2="249" stroke="#000" stroke-width="1"/>
<rect x="1015.5" y="240.5" width="4" height="4" fill="#fff" stroke="#000" stroke-width="1"/>
<line x1="1023.5" y1="231" x2="1023.5" y2="242" stroke="#000" stroke-width="1"/>
<line x1="1023.5" y1="249" x2="1023.5" y2="257" stroke="#000" stroke-width="1"/>
<rect x="1021.5" y="242.5" width="4" height="6" fill="#787b86" fill-opacity="0.72" stroke="#000" stroke-width="1"/>
<line x1="1030.5" y1="234" x2="1030.5" y2="242" stroke="#000" stroke-width="1"/>
<line x1="1030.5" y1="245" x2="1030.5" y2="262" stroke="#000" stroke-width="1"/>
<rect x="1028.5" y="242.5" width="4" height="2" fill="#fff" stroke="#000" stroke-width="1"/>
<line x1="1037.5" y1="221" x2="1037.5" y2="236" stroke="#000" stroke-width="1"/>
<line x1="1037.5" y1="244" x2="1037.5" y2="256" stroke="#000" stroke-width="1"/>
<rect x="1035.5" y="236.5" width="4" height="7" fill="#fff" stroke="#000" stroke-width="1"/>
<line x1="1043.5" y1="215" x2="1043.5" y2="220" stroke="#000" stroke-width="1"/>
<line x1="1043.5" y1="223" x2="1043.5" y2="232" stroke="#000" stroke-width="1"/>
<rect x="1041.5" y="220.5" width="4" height="2" fill="#fff" stroke="#000" stroke-width="1"/>
<line x1="1050.5" y1="209" x2="1050.5" y2="212" stroke="#000" stroke-width="1"/>
<rect x="1048.5" y="212.5" width="4" height="11" fill="#fff" stroke="#000" stroke-width="1"/>
<line x1="1057.5" y1="191" x2="1057.5" y2="194" stroke="#000" stroke-width="1"/>
<line x1="1057.5" y1="213" x2="1057.5" y2="221" stroke="#000" stroke-width="1"/>
<rect x="1055.5" y="194.5" width="4" height="18" fill="#fff" stroke="#000" stroke-width="1"/>
<line x1="1063.5" y1="178" x2="1063.5" y2="187" stroke="#000" stroke-width="1"/>
<line x1="1063.5" y1="192" x2="1063.5" y2="198" stroke="#000" stroke-width="1"/>
<rect x="1061.5" y="187.5" width="4" height="4" fill="#fff" stroke="#000" stroke-width="1"/>
<line x1="1070.5" y1="189" x2="1070.5" y2="190" stroke="#000" stroke-width="1"/>
<line x1="1070.5" y1="205" x2="1070.5" y2="215" stroke="#000" stroke-width="1"/>
<rect x="1068.5" y="190.5" width="4" height="14" fill="#787b86" fill-opacity="0.72" stroke="#000" stroke-width="1"/>
<line x1="1077.5" y1="187" x2="1077.5" y2="199" stroke="#000" stroke-width="1"/>
<line x1="1077.5" y1="202" x2="1077.5" y2="204" stroke="#000" stroke-width="1"/>
<rect x="1075.5" y="199.5" width="4" height="2" fill="#787b86" fill-opacity="0.72" stroke="#000" stroke-width="1"/>
<line x1="1084.5" y1="195" x2="1084.5" y2="199" stroke="#000" stroke-width="1"/>
<line x1="1084.5" y1="202" x2="1084.5" y2="211" stroke="#000" stroke-width="1"/>
<rect x="1082.5" y="199.5" width="4" height="2" fill="#fff" stroke="#000" stroke-width="1"/>
<line x1="1090.5" y1="182" x2="1090.5" y2="198" stroke="#000" stroke-width="1"/>
<line x1="1090.5" y1="199" x2="1090.5" y2="205" stroke="#000" stroke-width="1"/>
<rect x="1088.0" y="198" width="5" height="1" fill="#000"/>
<line x1="1097.5" y1="196" x2="1097.5" y2="204" stroke="#000" stroke-width="1"/>
<line x1="1097.5" y1="207" x2="1097.5" y2="211" stroke="#000" stroke-width="1"/>
<rect x="1095.5" y="204.5" width="4" height="2" fill="#787b86" fill-opacity="0.72" stroke="#000" stroke-width="1"/>
<line x1="1104.5" y1="195" x2="1104.5" y2="201" stroke="#000" stroke-width="1"/>
<line x1="1104.5" y1="207" x2="1104.5" y2="213" stroke="#000" stroke-width="1"/>
<rect x="1102.5" y="201.5" width="4" height="5" fill="#fff" stroke="#000" stroke-width="1"/>
<line x1="1110.5" y1="189" x2="1110.5" y2="201" stroke="#000" stroke-width="1"/>
<line x1="1110.5" y1="205" x2="1110.5" y2="210" stroke="#000" stroke-width="1"/>
<rect x="1108.5" y="201.5" width="4" height="3" fill="#787b86" fill-opacity="0.72" stroke="#000" stroke-width="1"/>
<line x1="1117.5" y1="172" x2="1117.5" y2="175" stroke="#000" stroke-width="1"/>
<line x1="1117.5" y1="194" x2="1117.5" y2="201" stroke="#000" stroke-width="1"/>
<rect x="1115.5" y="175.5" width="4" height="18" fill="#fff" stroke="#000" stroke-width="1"/>
<line x1="1124.5" y1="148" x2="1124.5" y2="169" stroke="#000" stroke-width="1"/>
<line x1="1124.5" y1="175" x2="1124.5" y2="183" stroke="#000" stroke-width="1"/>
<rect x="1122.5" y="169.5" width="4" height="5" fill="#fff" stroke="#000" stroke-width="1"/>
<line x1="1130.5" y1="149" x2="1130.5" y2="167" stroke="#000" stroke-width="1"/>
<line x1="1130.5" y1="170" x2="1130.5" y2="173" stroke="#000" stroke-width="1"/>
<rect x="1128.5" y="167.5" width="4" height="2" fill="#fff" stroke="#000" stroke-width="1"/>
<line x1="1137.5" y1="155" x2="1137.5" y2="167" stroke="#000" stroke-width="1"/>
<line x1="1137.5" y1="168" x2="1137.5" y2="178" stroke="#000" stroke-width="1"/>
<rect x="1135.0" y="167" width="5" height="1" fill="#000"/>
<line x1="1144.5" y1="150" x2="1144.5" y2="153" stroke="#000" stroke-width="1"/>
<rect x="1142.5" y="153.5" width="4" height="13" fill="#fff" stroke="#000" stroke-width="1"/>
<line x1="1151.5" y1="141" x2="1151.5" y2="155" stroke="#000" stroke-width="1"/>
<line x1="1151.5" y1="157" x2="1151.5" y2="165" stroke="#000" stroke-width="1"/>
<rect x="1149.0" y="155" width="5" height="2" fill="#000"/>
<line x1="1157.5" y1="157" x2="1157.5" y2="166" stroke="#000" stroke-width="1"/>
<rect x="1155.5" y="148.5" width="4" height="8" fill="#fff" stroke="#000" stroke-width="1"/>
<line x1="1164.5" y1="129" x2="1164.5" y2="133" stroke="#000" stroke-width="1"/>
<rect x="1162.5" y="133.5" width="4" height="21" fill="#fff" stroke="#000" stroke-width="1"/>
<defs><filter id="sh" x="-50%" y="-50%" width="200%" height="200%"><feGaussianBlur stdDeviation="1.9"/></filter></defs>
<g transform="translate(4.5,4.5)" filter="url(#sh)" opacity="0.6"><line x1="1174.9" y1="135.8" x2="1191.4" y2="110.6" stroke-width="2.6" stroke-linecap="round" stroke="#000"/><polygon points="1196.6,102.7 1187.5,108.1 1195.2,113.2" fill="#000"/><line x1="1200.3" y1="104.8" x2="1209.0" y2="135.6" stroke-width="2.6" stroke-linecap="round" stroke="#000"/><polygon points="1211.6,144.7 1213.4,134.3 1204.6,136.8" fill="#000"/></g>
<g><line x1="1174.9" y1="135.8" x2="1191.4" y2="110.6" stroke-width="2.6" stroke-linecap="round" stroke="#000"/><polygon points="1196.6,102.7 1187.5,108.1 1195.2,113.2" fill="#000"/><line x1="1200.3" y1="104.8" x2="1209.0" y2="135.6" stroke-width="2.6" stroke-linecap="round" stroke="#000"/><polygon points="1211.6,144.7 1213.4,134.3 1204.6,136.8" fill="#000"/></g>
<text x="883.80" y="417.00" font-size="13.3" fill="#111" font-weight="bold" font-style="italic" textLength="250.60" lengthAdjust="spacingAndGlyphs" >Gold is toying with a breakout, though it</text>
<text x="898.60" y="433.00" font-size="13.3" fill="#111" font-weight="bold" font-style="italic" textLength="221.50" lengthAdjust="spacingAndGlyphs" >has already risen around its average</text>
<text x="925.00" y="449.00" font-size="13.3" fill="#111" font-weight="bold" font-style="italic" textLength="166.90" lengthAdjust="spacingAndGlyphs" >positive gain for the month</text>
<text x="1267.70" y="126.70" font-size="10.0" fill="#1e44d0" textLength="25.30" lengthAdjust="spacingAndGlyphs" >4.78%</text>
<text x="1276.00" y="136.30" font-size="10.0" fill="#9a9da6" textLength="16.80" lengthAdjust="spacingAndGlyphs" >ATH</text>
<text x="1267.70" y="238.70" font-size="10.0" fill="#f57c00" textLength="25.30" lengthAdjust="spacingAndGlyphs" >4.78%</text>
<text x="1249.60" y="203.70" font-size="10.0" fill="#111" textLength="42.90" lengthAdjust="spacingAndGlyphs" >Dec VPOC</text>
<line x1="597" y1="617.5" x2="1299" y2="617.5" stroke="#dcdcdc" stroke-width="1"/>
<line x1="597" y1="535.5" x2="1295" y2="535.5" stroke="#c5cff0" stroke-width="1" stroke-dasharray="6 5"/>
<line x1="597" y1="576.5" x2="1295" y2="576.5" stroke="#5b7fe0" stroke-width="1" stroke-dasharray="6 5"/>
<line x1="597" y1="658.5" x2="1295" y2="658.5" stroke="#5b7fe0" stroke-width="1" stroke-dasharray="6 5"/>
<line x1="597" y1="700.5" x2="1295" y2="700.5" stroke="#c5cff0" stroke-width="1" stroke-dasharray="6 5"/>
<polyline fill="none" stroke="#a3b3dd" stroke-width="2" stroke-linejoin="round" points="595.4,620.0 602.1,540.0 608.8,560.0 615.5,530.0 622.1,525.0 628.8,520.0 635.5,570.0 642.2,570.0 648.9,540.0 655.6,560.0 662.3,530.0 669.0,580.0 675.7,540.0 682.4,530.0 689.0,621.4 695.7,540.0 702.4,530.0 709.1,525.0 715.8,540.0 722.5,693.3 729.2,613.0 735.9,536.4 742.6,526.3 749.2,627.5 755.9,620.5 762.6,555.2 769.3,530.1 776.0,525.1 782.7,520.1 789.4,626.3 796.1,559.0 802.8,529.4 809.5,523.1 816.2,517.1 822.8,649.9 829.5,613.0 836.2,541.9 842.9,535.6 849.6,526.3 856.3,517.6 863.0,628.8 869.7,555.2 876.4,668.2 883.1,678.2 889.7,609.9 896.4,618.0 903.1,689.5 909.8,698.8 916.5,655.6 923.2,615.5 929.9,660.2 936.6,597.1 943.3,686.3 950.0,605.4 956.6,611.7 963.3,562.2 970.0,520.6 976.7,536.9 983.4,520.1 990.1,564.0 996.8,673.7 1003.5,684.0 1010.2,689.5 1016.9,622.5 1023.5,673.2 1030.2,599.2 1036.9,564.0 1043.6,527.6 1050.3,521.3 1057.0,516.8 1063.7,515.5 1070.4,647.4 1077.1,618.0 1083.8,588.6 1090.4,588.6 1097.1,685.3 1103.8,596.6 1110.5,645.6 1117.2,532.6 1123.9,528.3 1130.6,525.6 1137.3,550.9 1144.0,521.3 1150.7,574.0 1157.3,540.1 1164.0,521.3"/>
<polyline fill="none" stroke="#3d66d6" stroke-width="2" stroke-linejoin="round" points="595.4,622.9 602.1,611.6 608.8,611.9 615.5,606.5 622.1,601.8 628.8,593.5 635.5,585.0 642.2,580.0 648.9,578.0 655.6,582.0 662.3,575.0 669.0,570.0 675.7,572.0 682.4,568.0 689.0,575.0 695.7,580.0 702.4,574.0 709.1,570.0 715.8,569.0 722.5,583.3 729.2,576.6 735.9,565.3 742.6,559.7 749.2,578.6 755.9,578.3 762.6,571.5 769.3,565.3 776.0,562.7 782.7,559.7 789.4,572.0 796.1,566.0 802.8,557.7 809.5,555.2 816.2,549.7 822.8,580.3 829.5,576.6 836.2,564.0 842.9,561.5 849.6,557.7 856.3,551.4 863.0,572.8 869.7,562.2 876.4,602.4 883.1,607.2 889.7,599.7 896.4,600.4 903.1,615.0 909.8,619.5 916.5,617.2 923.2,615.5 929.9,618.0 936.6,615.5 943.3,623.0 950.0,618.5 956.6,618.7 963.3,615.5 970.0,599.7 976.7,600.9 983.4,589.1 990.1,592.9 996.8,609.9 1003.5,613.0 1010.2,614.2 1016.9,611.7 1023.5,615.5 1030.2,613.0 1036.9,609.9 1043.6,601.7 1050.3,597.9 1057.0,590.4 1063.7,587.3 1070.4,599.9 1077.1,598.6 1083.8,596.9 1090.4,596.9 1097.1,603.7 1103.8,599.9 1110.5,602.9 1117.2,586.6 1123.9,584.1 1130.6,582.8 1137.3,584.1 1144.0,577.3 1150.7,580.3 1157.3,576.6 1164.0,569.8"/>
<line x1="10" y1="494.5" x2="590" y2="494.5" stroke="#e3e6ee" stroke-width="1"/>
<line x1="130" y1="339.3" x2="348.4" y2="348.4" stroke="#b5b8c0" stroke-width="1" stroke-dasharray="1.5 2"/>
<line x1="450.0" y1="87.5" x2="513.0" y2="87.5" stroke="#8a8d96" stroke-width="1" stroke-dasharray="1 2"/>
<line x1="536.0" y1="87.5" x2="540.0" y2="87.5" stroke="#8a8d96" stroke-width="1" stroke-dasharray="1 2"/>
<line x1="460.0" y1="84.5" x2="503.0" y2="84.5" stroke="#1e44d0" stroke-width="1" stroke-dasharray="1 2"/>
<line x1="536.0" y1="84.5" x2="540.0" y2="84.5" stroke="#1e44d0" stroke-width="1" stroke-dasharray="1 2"/>
<line x1="460.0" y1="126.5" x2="503.0" y2="126.5" stroke="#b5222f" stroke-width="1" stroke-dasharray="1 2"/>
<line x1="536.0" y1="126.5" x2="540.0" y2="126.5" stroke="#b5222f" stroke-width="1" stroke-dasharray="1 2"/>
<line x1="448.7" y1="144" x2="470.4" y2="144" stroke="#000" stroke-width="2"/>
<line x1="15.5" y1="421" x2="15.5" y2="425" stroke="#000" stroke-width="1"/>
<rect x="14.5" y="425.5" width="2" height="2" fill="#fff" stroke="#000" stroke-width="1"/>
<line x1="20.5" y1="422" x2="20.5" y2="424" stroke="#000" stroke-width="1"/>
<line x1="20.5" y1="425" x2="20.5" y2="427" stroke="#000" stroke-width="1"/>
<rect x="19.0" y="424" width="3" height="1" fill="#000"/>
<rect x="24.5" y="417.5" width="2" height="7" fill="#fff" stroke="#000" stroke-width="1"/>
<line x1="30.5" y1="411" x2="30.5" y2="412" stroke="#000" stroke-width="1"/>
<rect x="29.5" y="412.5" width="2" height="4" fill="#fff" stroke="#000" stroke-width="1"/>
<line x1="35.5" y1="409" x2="35.5" y2="412" stroke="#000" stroke-width="1"/>
<line x1="35.5" y1="414" x2="35.5" y2="415" stroke="#000" stroke-width="1"/>
<rect x="34.0" y="412" width="3" height="2" fill="#000"/>
<line x1="40.5" y1="412" x2="40.5" y2="413" stroke="#000" stroke-width="1"/>
<line x1="40.5" y1="416" x2="40.5" y2="418" stroke="#000" stroke-width="1"/>
<rect x="39.5" y="413.5" width="2" height="2" fill="#787b86" fill-opacity="0.72" stroke="#000" stroke-width="1"/>
<line x1="46.5" y1="414" x2="46.5" y2="417" stroke="#000" stroke-width="1"/>
<line x1="46.5" y1="419" x2="46.5" y2="420" stroke="#000" stroke-width="1"/>
<rect x="45.0" y="417" width="3" height="2" fill="#000"/>
<line x1="51.5" y1="418" x2="51.5" y2="420" stroke="#000" stroke-width="1"/>
<rect x="50.5" y="415.5" width="2" height="2" fill="#fff" stroke="#000" stroke-width="1"/>
<line x1="56.5" y1="398" x2="56.5" y2="402" stroke="#000" stroke-width="1"/>
<rect x="55.5" y="402.5" width="2" height="12" fill="#fff" stroke="#000" stroke-width="1"/>
<line x1="61.5" y1="397" x2="61.5" y2="401" stroke="#000" stroke-width="1"/>
<rect x="60.5" y="401.5" width="2" height="3" fill="#fff" stroke="#000" stroke-width="1"/>
<line x1="66.5" y1="384" x2="66.5" y2="389" stroke="#000" stroke-width="1"/>
<rect x="65.5" y="389.5" width="2" height="13" fill="#fff" stroke="#000" stroke-width="1"/>
<line x1="72.5" y1="384" x2="72.5" y2="389" stroke="#000" stroke-width="1"/>
<rect x="71.5" y="389.5" width="2" height="7" fill="#787b86" fill-opacity="0.72" stroke="#000" stroke-width="1"/>
<line x1="77.5" y1="390" x2="77.5" y2="391" stroke="#000" stroke-width="1"/>
<rect x="76.5" y="391.5" width="2" height="4" fill="#fff" stroke="#000" stroke-width="1"/>
<line x1="82.5" y1="390" x2="82.5" y2="391" stroke="#000" stroke-width="1"/>
<line x1="82.5" y1="398" x2="82.5" y2="400" stroke="#000" stroke-width="1"/>
<rect x="81.5" y="391.5" width="2" height="6" fill="#787b86" fill-opacity="0.72" stroke="#000" stroke-width="1"/>
<rect x="86.5" y="391.5" width="2" height="6" fill="#fff" stroke="#000" stroke-width="1"/>
<line x1="92.5" y1="379" x2="92.5" y2="383" stroke="#000" stroke-width="1"/>
<rect x="91.5" y="383.5" width="2" height="7" fill="#fff" stroke="#000" stroke-width="1"/>
<line x1="97.5" y1="369" x2="97.5" y2="382" stroke="#000" stroke-width="1"/>
<line x1="97.5" y1="386" x2="97.5" y2="388" stroke="#000" stroke-width="1"/>
<rect x="96.5" y="382.5" width="2" height="3" fill="#787b86" fill-opacity="0.72" stroke="#000" stroke-width="1"/>
<line x1="103.5" y1="368" x2="103.5" y2="382" stroke="#000" stroke-width="1"/>
<line x1="103.5" y1="386" x2="103.5" y2="401" stroke="#000" stroke-width="1"/>
<rect x="102.5" y="382.5" width="2" height="3" fill="#fff" stroke="#000" stroke-width="1"/>
<line x1="108.5" y1="361" x2="108.5" y2="373" stroke="#000" stroke-width="1"/>
<line x1="108.5" y1="387" x2="108.5" y2="388" stroke="#000" stroke-width="1"/>
<rect x="107.5" y="373.5" width="2" height="13" fill="#fff" stroke="#000" stroke-width="1"/>
<line x1="113.5" y1="362" x2="113.5" y2="368" stroke="#000" stroke-width="1"/>
<rect x="112.5" y="368.5" width="2" height="4" fill="#fff" stroke="#000" stroke-width="1"/>
<line x1="118.5" y1="368" x2="118.5" y2="378" stroke="#000" stroke-width="1"/>
<rect x="117.5" y="361.5" width="2" height="6" fill="#fff" stroke="#000" stroke-width="1"/>
<line x1="123.5" y1="338" x2="123.5" y2="340" stroke="#000" stroke-width="1"/>
<line x1="123.5" y1="361" x2="123.5" y2="366" stroke="#000" stroke-width="1"/>
<rect x="122.5" y="340.5" width="2" height="20" fill="#fff" stroke="#000" stroke-width="1"/>
<line x1="128.5" y1="327" x2="128.5" y2="339" stroke="#000" stroke-width="1"/>
<line x1="128.5" y1="342" x2="128.5" y2="355" stroke="#000" stroke-width="1"/>
<rect x="127.5" y="339.5" width="2" height="2" fill="#787b86" fill-opacity="0.72" stroke="#000" stroke-width="1"/>
<line x1="134.5" y1="338" x2="134.5" y2="342" stroke="#000" stroke-width="1"/>
<line x1="134.5" y1="352" x2="134.5" y2="358" stroke="#000" stroke-width="1"/>
<rect x="133.5" y="342.5" width="2" height="9" fill="#787b86" fill-opacity="0.72" stroke="#000" stroke-width="1"/>
<line x1="139.5" y1="346" x2="139.5" y2="353" stroke="#000" stroke-width="1"/>
<line x1="139.5" y1="356" x2="139.5" y2="357" stroke="#000" stroke-width="1"/>
<rect x="138.5" y="353.5" width="2" height="2" fill="#787b86" fill-opacity="0.72" stroke="#000" stroke-width="1"/>
<line x1="144.5" y1="343" x2="144.5" y2="354" stroke="#000" stroke-width="1"/>
<rect x="143.5" y="354.5" width="2" height="13" fill="#787b86" fill-opacity="0.72" stroke="#000" stroke-width="1"/>
<line x1="149.5" y1="351" x2="149.5" y2="353" stroke="#000" stroke-width="1"/>
<rect x="148.5" y="353.5" width="2" height="14" fill="#fff" stroke="#000" stroke-width="1"/>
<line x1="154.5" y1="344" x2="154.5" y2="351" stroke="#000" stroke-width="1"/>
<line x1="154.5" y1="359" x2="154.5" y2="365" stroke="#000" stroke-width="1"/>
<rect x="153.5" y="351.5" width="2" height="7" fill="#787b86" fill-opacity="0.72" stroke="#000" stroke-width="1"/>
<line x1="159.5" y1="356" x2="159.5" y2="357" stroke="#000" stroke-width="1"/>
<line x1="159.5" y1="376" x2="159.5" y2="377" stroke="#000" stroke-width="1"/>
<rect x="158.5" y="357.5" width="2" height="18" fill="#787b86" fill-opacity="0.72" stroke="#000" stroke-width="1"/>
<line x1="165.5" y1="371" x2="165.5" y2="375" stroke="#000" stroke-width="1"/>
<line x1="165.5" y1="378" x2="165.5" y2="382" stroke="#000" stroke-width="1"/>
<rect x="164.5" y="375.5" width="2" height="2" fill="#787b86" fill-opacity="0.72" stroke="#000" stroke-width="1"/>
<line x1="170.5" y1="366" x2="170.5" y2="370" stroke="#000" stroke-width="1"/>
<rect x="169.5" y="370.5" width="2" height="7" fill="#fff" stroke="#000" stroke-width="1"/>
<line x1="175.5" y1="351" x2="175.5" y2="353" stroke="#000" stroke-width="1"/>
<rect x="174.5" y="353.5" width="2" height="16" fill="#fff" stroke="#000" stroke-width="1"/>
<line x1="180.5" y1="351" x2="180.5" y2="352" stroke="#000" stroke-width="1"/>
<line x1="180.5" y1="370" x2="180.5" y2="373" stroke="#000" stroke-width="1"/>
<rect x="179.5" y="352.5" width="2" height="17" fill="#787b86" fill-opacity="0.72" stroke="#000" stroke-width="1"/>
<line x1="185.5" y1="362" x2="185.5" y2="365" stroke="#000" stroke-width="1"/>
<rect x="184.5" y="365.5" width="2" height="4" fill="#fff" stroke="#000" stroke-width="1"/>
<line x1="190.5" y1="362" x2="190.5" y2="365" stroke="#000" stroke-width="1"/>
<line x1="190.5" y1="366" x2="190.5" y2="383" stroke="#000" stroke-width="1"/>
<rect x="189.0" y="365" width="3" height="1" fill="#000"/>
<line x1="196.5" y1="362" x2="196.5" y2="365" stroke="#000" stroke-width="1"/>
<line x1="196.5" y1="373" x2="196.5" y2="377" stroke="#000" stroke-width="1"/>
<rect x="195.5" y="365.5" width="2" height="7" fill="#787b86" fill-opacity="0.72" stroke="#000" stroke-width="1"/>
<line x1="201.5" y1="366" x2="201.5" y2="369" stroke="#000" stroke-width="1"/>
<line x1="201.5" y1="372" x2="201.5" y2="374" stroke="#000" stroke-width="1"/>
<rect x="200.5" y="369.5" width="2" height="2" fill="#fff" stroke="#000" stroke-width="1"/>
<line x1="206.5" y1="357" x2="206.5" y2="369" stroke="#000" stroke-width="1"/>
<rect x="205.5" y="369.5" width="2" height="2" fill="#787b86" fill-opacity="0.72" stroke="#000" stroke-width="1"/>
<line x1="211.5" y1="371" x2="211.5" y2="373" stroke="#000" stroke-width="1"/>
<rect x="210.5" y="363.5" width="2" height="7" fill="#fff" stroke="#000" stroke-width="1"/>
<line x1="216.5" y1="360" x2="216.5" y2="363" stroke="#000" stroke-width="1"/>
<line x1="216.5" y1="368" x2="216.5" y2="370" stroke="#000" stroke-width="1"/>
<rect x="215.5" y="363.5" width="2" height="4" fill="#787b86" fill-opacity="0.72" stroke="#000" stroke-width="1"/>
<line x1="221.5" y1="345" x2="221.5" y2="355" stroke="#000" stroke-width="1"/>
<rect x="220.5" y="355.5" width="2" height="13" fill="#fff" stroke="#000" stroke-width="1"/>
<line x1="227.5" y1="331" x2="227.5" y2="348" stroke="#000" stroke-width="1"/>
<line x1="227.5" y1="353" x2="227.5" y2="356" stroke="#000" stroke-width="1"/>
<rect x="226.5" y="348.5" width="2" height="4" fill="#fff" stroke="#000" stroke-width="1"/>
<line x1="232.5" y1="342" x2="232.5" y2="350" stroke="#000" stroke-width="1"/>
<line x1="232.5" y1="354" x2="232.5" y2="359" stroke="#000" stroke-width="1"/>
<rect x="231.5" y="350.5" width="2" height="3" fill="#787b86" fill-opacity="0.72" stroke="#000" stroke-width="1"/>
<line x1="237.5" y1="354" x2="237.5" y2="356" stroke="#000" stroke-width="1"/>
<line x1="237.5" y1="363" x2="237.5" y2="370" stroke="#000" stroke-width="1"/>
<rect x="236.5" y="356.5" width="2" height="6" fill="#787b86" fill-opacity="0.72" stroke="#000" stroke-width="1"/>
<line x1="242.5" y1="358" x2="242.5" y2="364" stroke="#000" stroke-width="1"/>
<rect x="241.5" y="364.5" width="2" height="3" fill="#787b86" fill-opacity="0.72" stroke="#000" stroke-width="1"/>
<line x1="247.5" y1="367" x2="247.5" y2="368" stroke="#000" stroke-width="1"/>
<line x1="247.5" y1="374" x2="247.5" y2="385" stroke="#000" stroke-width="1"/>
<rect x="246.5" y="368.5" width="2" height="5" fill="#787b86" fill-opacity="0.72" stroke="#000" stroke-width="1"/>
<line x1="252.5" y1="368" x2="252.5" y2="375" stroke="#000" stroke-width="1"/>
<rect x="251.5" y="375.5" width="2" height="6" fill="#787b86" fill-opacity="0.72" stroke="#000" stroke-width="1"/>
<line x1="258.5" y1="378" x2="258.5" y2="381" stroke="#000" stroke-width="1"/>
<line x1="258.5" y1="388" x2="258.5" y2="394" stroke="#000" stroke-width="1"/>
<rect x="257.5" y="381.5" width="2" height="6" fill="#787b86" fill-opacity="0.72" stroke="#000" stroke-width="1"/>
<line x1="263.5" y1="379" x2="263.5" y2="389" stroke="#000" stroke-width="1"/>
<line x1="263.5" y1="393" x2="263.5" y2="395" stroke="#000" stroke-width="1"/>
<rect x="262.5" y="389.5" width="2" height="3" fill="#787b86" fill-opacity="0.72" stroke="#000" stroke-width="1"/>
<line x1="268.5" y1="372" x2="268.5" y2="379" stroke="#000" stroke-width="1"/>
<line x1="268.5" y1="393" x2="268.5" y2="395" stroke="#000" stroke-width="1"/>
<rect x="267.5" y="379.5" width="2" height="13" fill="#fff" stroke="#000" stroke-width="1"/>
<line x1="273.5" y1="368" x2="273.5" y2="370" stroke="#000" stroke-width="1"/>
<rect x="272.5" y="370.5" width="2" height="5" fill="#fff" stroke="#000" stroke-width="1"/>
<line x1="278.5" y1="354" x2="278.5" y2="357" stroke="#000" stroke-width="1"/>
<rect x="277.5" y="357.5" width="2" height="11" fill="#fff" stroke="#000" stroke-width="1"/>
<line x1="283.5" y1="353" x2="283.5" y2="357" stroke="#000" stroke-width="1"/>
<line x1="283.5" y1="371" x2="283.5" y2="374" stroke="#000" stroke-width="1"/>
<rect x="282.5" y="357.5" width="2" height="13" fill="#787b86" fill-opacity="0.72" stroke="#000" stroke-width="1"/>
<line x1="289.5" y1="348" x2="289.5" y2="354" stroke="#000" stroke-width="1"/>
<line x1="289.5" y1="371" x2="289.5" y2="374" stroke="#000" stroke-width="1"/>
<rect x="288.5" y="354.5" width="2" height="16" fill="#fff" stroke="#000" stroke-width="1"/>
<line x1="294.5" y1="344" x2="294.5" y2="352" stroke="#000" stroke-width="1"/>
<line x1="294.5" y1="354" x2="294.5" y2="356" stroke="#000" stroke-width="1"/>
<rect x="293.0" y="352" width="3" height="2" fill="#000"/>
<line x1="299.5" y1="341" x2="299.5" y2="352" stroke="#000" stroke-width="1"/>
<line x1="299.5" y1="357" x2="299.5" y2="361" stroke="#000" stroke-width="1"/>
<rect x="298.5" y="352.5" width="2" height="4" fill="#787b86" fill-opacity="0.72" stroke="#000" stroke-width="1"/>
<line x1="304.5" y1="354" x2="304.5" y2="357" stroke="#000" stroke-width="1"/>
<line x1="304.5" y1="363" x2="304.5" y2="367" stroke="#000" stroke-width="1"/>
<rect x="303.5" y="357.5" width="2" height="5" fill="#787b86" fill-opacity="0.72" stroke="#000" stroke-width="1"/>
<line x1="309.5" y1="356" x2="309.5" y2="358" stroke="#000" stroke-width="1"/>
<line x1="309.5" y1="364" x2="309.5" y2="366" stroke="#000" stroke-width="1"/>
<rect x="308.5" y="358.5" width="2" height="5" fill="#fff" stroke="#000" stroke-width="1"/>
<line x1="314.5" y1="364" x2="314.5" y2="371" stroke="#000" stroke-width="1"/>
<rect x="313.5" y="359.5" width="2" height="4" fill="#787b86" fill-opacity="0.72" stroke="#000" stroke-width="1"/>
<line x1="320.5" y1="362" x2="320.5" y2="364" stroke="#000" stroke-width="1"/>
<rect x="319.5" y="364.5" width="2" height="12" fill="#787b86" fill-opacity="0.72" stroke="#000" stroke-width="1"/>
<line x1="325.5" y1="357" x2="325.5" y2="360" stroke="#000" stroke-width="1"/>
<line x1="325.5" y1="377" x2="325.5" y2="382" stroke="#000" stroke-width="1"/>
<rect x="324.5" y="360.5" width="2" height="16" fill="#fff" stroke="#000" stroke-width="1"/>
<line x1="330.5" y1="353" x2="330.5" y2="355" stroke="#000" stroke-width="1"/>
<line x1="330.5" y1="360" x2="330.5" y2="368" stroke="#000" stroke-width="1"/>
<rect x="329.5" y="355.5" width="2" height="4" fill="#fff" stroke="#000" stroke-width="1"/>
<line x1="335.5" y1="342" x2="335.5" y2="353" stroke="#000" stroke-width="1"/>
<line x1="335.5" y1="356" x2="335.5" y2="364" stroke="#000" stroke-width="1"/>
<rect x="334.5" y="353.5" width="2" height="2" fill="#fff" stroke="#000" stroke-width="1"/>
<line x1="340.5" y1="351" x2="340.5" y2="353" stroke="#000" stroke-width="1"/>
<line x1="340.5" y1="356" x2="340.5" y2="360" stroke="#000" stroke-width="1"/>
<rect x="339.5" y="353.5" width="2" height="2" fill="#787b86" fill-opacity="0.72" stroke="#000" stroke-width="1"/>
<line x1="345.5" y1="354" x2="345.5" y2="357" stroke="#000" stroke-width="1"/>
<line x1="345.5" y1="358" x2="345.5" y2="365" stroke="#000" stroke-width="1"/>
<rect x="344.0" y="357" width="3" height="1" fill="#000"/>
<line x1="351.5" y1="334" x2="351.5" y2="336" stroke="#000" stroke-width="1"/>
<rect x="350.5" y="336.5" width="2" height="21" fill="#fff" stroke="#000" stroke-width="1"/>
<line x1="356.5" y1="309" x2="356.5" y2="328" stroke="#000" stroke-width="1"/>
<rect x="355.5" y="328.5" width="2" height="5" fill="#fff" stroke="#000" stroke-width="1"/>
<line x1="361.5" y1="309" x2="361.5" y2="327" stroke="#000" stroke-width="1"/>
<rect x="360.5" y="327.5" width="2" height="2" fill="#fff" stroke="#000" stroke-width="1"/>
<line x1="366.5" y1="318" x2="366.5" y2="325" stroke="#000" stroke-width="1"/>
<line x1="366.5" y1="327" x2="366.5" y2="331" stroke="#000" stroke-width="1"/>
<rect x="365.0" y="325" width="3" height="2" fill="#000"/>
<line x1="371.5" y1="307" x2="371.5" y2="315" stroke="#000" stroke-width="1"/>
<rect x="370.5" y="315.5" width="2" height="11" fill="#fff" stroke="#000" stroke-width="1"/>
<line x1="377.5" y1="303" x2="377.5" y2="308" stroke="#000" stroke-width="1"/>
<line x1="377.5" y1="313" x2="377.5" y2="324" stroke="#000" stroke-width="1"/>
<rect x="376.5" y="308.5" width="2" height="4" fill="#fff" stroke="#000" stroke-width="1"/>
<line x1="382.5" y1="285" x2="382.5" y2="291" stroke="#000" stroke-width="1"/>
<line x1="382.5" y1="308" x2="382.5" y2="311" stroke="#000" stroke-width="1"/>
<rect x="381.5" y="291.5" width="2" height="16" fill="#fff" stroke="#000" stroke-width="1"/>
<line x1="387.5" y1="273" x2="387.5" y2="279" stroke="#000" stroke-width="1"/>
<line x1="387.5" y1="292" x2="387.5" y2="296" stroke="#000" stroke-width="1"/>
<rect x="386.5" y="279.5" width="2" height="12" fill="#fff" stroke="#000" stroke-width="1"/>
<line x1="392.5" y1="276" x2="392.5" y2="279" stroke="#000" stroke-width="1"/>
<line x1="392.5" y1="292" x2="392.5" y2="306" stroke="#000" stroke-width="1"/>
<rect x="391.5" y="279.5" width="2" height="12" fill="#787b86" fill-opacity="0.72" stroke="#000" stroke-width="1"/>
<line x1="397.5" y1="281" x2="397.5" y2="292" stroke="#000" stroke-width="1"/>
<line x1="397.5" y1="297" x2="397.5" y2="302" stroke="#000" stroke-width="1"/>
<rect x="396.5" y="292.5" width="2" height="4" fill="#787b86" fill-opacity="0.72" stroke="#000" stroke-width="1"/>
<line x1="402.5" y1="271" x2="402.5" y2="275" stroke="#000" stroke-width="1"/>
<rect x="401.5" y="275.5" width="2" height="22" fill="#fff" stroke="#000" stroke-width="1"/>
<line x1="408.5" y1="257" x2="408.5" y2="273" stroke="#000" stroke-width="1"/>
<line x1="408.5" y1="274" x2="408.5" y2="279" stroke="#000" stroke-width="1"/>
<rect x="407.0" y="273" width="3" height="1" fill="#000"/>
<line x1="413.5" y1="236" x2="413.5" y2="238" stroke="#000" stroke-width="1"/>
<rect x="412.5" y="238.5" width="2" height="31" fill="#fff" stroke="#000" stroke-width="1"/>
<line x1="418.5" y1="191" x2="418.5" y2="216" stroke="#000" stroke-width="1"/>
<line x1="418.5" y1="237" x2="418.5" y2="261" stroke="#000" stroke-width="1"/>
<rect x="417.5" y="216.5" width="2" height="20" fill="#fff" stroke="#000" stroke-width="1"/>
<line x1="423.5" y1="199" x2="423.5" y2="218" stroke="#000" stroke-width="1"/>
<line x1="423.5" y1="221" x2="423.5" y2="241" stroke="#000" stroke-width="1"/>
<rect x="422.5" y="218.5" width="2" height="2" fill="#787b86" fill-opacity="0.72" stroke="#000" stroke-width="1"/>
<line x1="428.5" y1="199" x2="428.5" y2="220" stroke="#000" stroke-width="1"/>
<line x1="428.5" y1="223" x2="428.5" y2="228" stroke="#000" stroke-width="1"/>
<rect x="427.5" y="220.5" width="2" height="2" fill="#787b86" fill-opacity="0.72" stroke="#000" stroke-width="1"/>
<line x1="433.5" y1="202" x2="433.5" y2="221" stroke="#000" stroke-width="1"/>
<line x1="433.5" y1="224" x2="433.5" y2="227" stroke="#000" stroke-width="1"/>
<rect x="432.5" y="221.5" width="2" height="2" fill="#787b86" fill-opacity="0.72" stroke="#000" stroke-width="1"/>
<line x1="439.5" y1="199" x2="439.5" y2="201" stroke="#000" stroke-width="1"/>
<rect x="438.5" y="201.5" width="2" height="22" fill="#fff" stroke="#000" stroke-width="1"/>
<line x1="444.5" y1="152" x2="444.5" y2="155" stroke="#000" stroke-width="1"/>
<rect x="443.5" y="155.5" width="2" height="46" fill="#fff" stroke="#000" stroke-width="1"/>
<line x1="449.5" y1="87" x2="449.5" y2="139" stroke="#000" stroke-width="1"/>
<line x1="449.5" y1="153" x2="449.5" y2="159" stroke="#000" stroke-width="1"/>
<rect x="448.5" y="139.5" width="2" height="13" fill="#fff" stroke="#000" stroke-width="1"/>
<line x1="454.5" y1="106" x2="454.5" y2="111" stroke="#000" stroke-width="1"/>
<line x1="454.5" y1="140" x2="454.5" y2="147" stroke="#000" stroke-width="1"/>
<rect x="453.5" y="111.5" width="2" height="28" fill="#fff" stroke="#000" stroke-width="1"/>
<line x1="459.5" y1="86" x2="459.5" y2="87" stroke="#000" stroke-width="1"/>
<line x1="459.5" y1="110" x2="459.5" y2="118" stroke="#000" stroke-width="1"/>
<rect x="458.5" y="87.5" width="2" height="22" fill="#fff" stroke="#000" stroke-width="1"/>
<text x="507.60" y="87.60" font-size="10.0" fill="#1e44d0" textLength="25.10" lengthAdjust="spacingAndGlyphs" >4.78%</text>
<text x="515.80" y="91.40" font-size="10.0" fill="#9a9da6" textLength="16.90" lengthAdjust="spacingAndGlyphs" >ATH</text>
<text x="507.60" y="129.60" font-size="10.0" fill="#f57c00" textLength="25.10" lengthAdjust="spacingAndGlyphs" >4.78%</text>
<rect x="14" y="602.8" width="2" height="19.5" fill="#4aa5a5"/>
<rect x="19" y="583.3" width="2" height="39.0" fill="#4aa5a5"/>
<rect x="24" y="563.8" width="2" height="58.5" fill="#4aa5a5"/>
<rect x="29" y="544.3" width="2" height="78.0" fill="#4aa5a5"/>
<rect x="34" y="622.3" width="2" height="19.5" fill="#555"/>
<rect x="39" y="622.3" width="2" height="39.0" fill="#555"/>
<rect x="45" y="622.3" width="2" height="58.5" fill="#555"/>
<rect x="50" y="602.8" width="2" height="19.5" fill="#4aa5a5"/>
<rect x="55" y="583.3" width="2" height="39.0" fill="#4aa5a5"/>
<rect x="60" y="563.8" width="2" height="58.5" fill="#4aa5a5"/>
<rect x="65" y="544.3" width="2" height="78.0" fill="#4aa5a5"/>
<rect x="71" y="622.3" width="2" height="19.5" fill="#555"/>
<rect x="76" y="602.8" width="2" height="19.5" fill="#4aa5a5"/>
<rect x="81" y="622.3" width="2" height="19.5" fill="#555"/>
<rect x="86" y="602.8" width="2" height="19.5" fill="#4aa5a5"/>
<rect x="91" y="583.3" width="2" height="39.0" fill="#4aa5a5"/>
<rect x="96" y="622.3" width="2" height="19.5" fill="#555"/>
<rect x="102" y="602.8" width="2" height="19.5" fill="#4aa5a5"/>
<rect x="107" y="583.3" width="2" height="39.0" fill="#4aa5a5"/>
<rect x="112" y="563.8" width="2" height="58.5" fill="#4aa5a5"/>
<rect x="117" y="544.3" width="2" height="78.0" fill="#4aa5a5"/>
<rect x="122" y="524.8" width="2" height="97.5" fill="#4aa5a5"/>
<rect x="127" y="622.3" width="2" height="19.5" fill="#555"/>
<rect x="133" y="622.3" width="2" height="39.0" fill="#555"/>
<rect x="138" y="622.3" width="2" height="58.5" fill="#555"/>
<rect x="143" y="622.3" width="2" height="78.0" fill="#555"/>
<rect x="148" y="602.8" width="2" height="19.5" fill="#4aa5a5"/>
<rect x="153" y="622.3" width="2" height="19.5" fill="#555"/>
<rect x="158" y="622.3" width="2" height="39.0" fill="#555"/>
<rect x="164" y="622.3" width="2" height="58.5" fill="#555"/>
<rect x="169" y="602.8" width="2" height="19.5" fill="#4aa5a5"/>
<rect x="174" y="583.3" width="2" height="39.0" fill="#4aa5a5"/>
<rect x="179" y="622.3" width="2" height="19.5" fill="#555"/>
<rect x="184" y="602.8" width="2" height="19.5" fill="#4aa5a5"/>
<rect x="189" y="583.3" width="2" height="39.0" fill="#4aa5a5"/>
<rect x="195" y="622.3" width="2" height="19.5" fill="#555"/>
<rect x="200" y="602.8" width="2" height="19.5" fill="#4aa5a5"/>
<rect x="205" y="622.3" width="2" height="19.5" fill="#555"/>
<rect x="210" y="602.8" width="2" height="19.5" fill="#4aa5a5"/>
<rect x="215" y="622.3" width="2" height="19.5" fill="#555"/>
<rect x="220" y="602.8" width="2" height="19.5" fill="#4aa5a5"/>
<rect x="226" y="583.3" width="2" height="39.0" fill="#4aa5a5"/>
<rect x="231" y="622.3" width="2" height="19.5" fill="#555"/>
<rect x="236" y="622.3" width="2" height="39.0" fill="#555"/>
<rect x="241" y="622.3" width="2" height="58.5" fill="#555"/>
<rect x="246" y="622.3" width="2" height="78.0" fill="#555"/>
<rect x="251" y="622.3" width="2" height="88.7" fill="#555"/>
<rect x="257" y="622.3" width="2" height="88.7" fill="#555"/>
<rect x="262" y="622.3" width="2" height="88.7" fill="#555"/>
<rect x="267" y="602.8" width="2" height="19.5" fill="#4aa5a5"/>
<rect x="272" y="583.3" width="2" height="39.0" fill="#4aa5a5"/>
<rect x="277" y="563.8" width="2" height="58.5" fill="#4aa5a5"/>
<rect x="282" y="622.3" width="2" height="19.5" fill="#555"/>
<rect x="288" y="602.8" width="2" height="19.5" fill="#4aa5a5"/>
<rect x="293" y="583.3" width="2" height="39.0" fill="#4aa5a5"/>
<rect x="298" y="622.3" width="2" height="19.5" fill="#555"/>
<rect x="303" y="622.3" width="2" height="39.0" fill="#555"/>
<rect x="308" y="602.8" width="2" height="19.5" fill="#4aa5a5"/>
<rect x="313" y="622.3" width="2" height="19.5" fill="#555"/>
<rect x="319" y="622.3" width="2" height="39.0" fill="#555"/>
<rect x="324" y="602.8" width="2" height="19.5" fill="#4aa5a5"/>
<rect x="329" y="583.3" width="2" height="39.0" fill="#4aa5a5"/>
<rect x="334" y="563.8" width="2" height="58.5" fill="#4aa5a5"/>
<rect x="339" y="622.3" width="2" height="19.5" fill="#555"/>
<rect x="344" y="622.3" width="2" height="39.0" fill="#555"/>
<rect x="350" y="602.8" width="2" height="19.5" fill="#4aa5a5"/>
<rect x="355" y="583.3" width="2" height="39.0" fill="#4aa5a5"/>
<rect x="360" y="563.8" width="2" height="58.5" fill="#4aa5a5"/>
<rect x="365" y="622.3" width="2" height="19.5" fill="#555"/>
<rect x="370" y="602.8" width="2" height="19.5" fill="#4aa5a5"/>
<rect x="376" y="583.3" width="2" height="39.0" fill="#4aa5a5"/>
<rect x="381" y="563.8" width="2" height="58.5" fill="#4aa5a5"/>
<rect x="386" y="544.3" width="2" height="78.0" fill="#4aa5a5"/>
<rect x="391" y="622.3" width="2" height="19.5" fill="#555"/>
<rect x="396" y="622.3" width="2" height="39.0" fill="#555"/>
<rect x="401" y="602.8" width="2" height="19.5" fill="#4aa5a5"/>
<rect x="407" y="583.3" width="2" height="39.0" fill="#4aa5a5"/>
<rect x="412" y="563.8" width="2" height="58.5" fill="#4aa5a5"/>
<rect x="417" y="544.3" width="2" height="78.0" fill="#4aa5a5"/>
<rect x="422" y="622.3" width="2" height="19.5" fill="#555"/>
<rect x="427" y="622.3" width="2" height="39.0" fill="#555"/>
<rect x="432" y="622.3" width="2" height="58.5" fill="#555"/>
<rect x="438" y="602.8" width="2" height="19.5" fill="#4aa5a5"/>
<rect x="443" y="583.3" width="2" height="39.0" fill="#4aa5a5"/>
<rect x="448" y="563.8" width="2" height="58.5" fill="#4aa5a5"/>
<rect x="453" y="544.3" width="2" height="78.0" fill="#4aa5a5"/>
<rect x="458" y="524.8" width="2" height="97.5" fill="#4aa5a5"/>
<line x1="539.5" y1="28" x2="539.5" y2="736" stroke="#000" stroke-width="1"/>
<line x1="1299.5" y1="28" x2="1299.5" y2="736" stroke="#000" stroke-width="1"/>
<line x1="11" y1="711.5" x2="590.5" y2="711.5" stroke="#000" stroke-width="1"/>
<line x1="596.5" y1="711.5" x2="1350.5" y2="711.5" stroke="#000" stroke-width="1"/>
<line x1="597" y1="503.5" x2="1350" y2="503.5" stroke="#e3e6ee" stroke-width="1"/>
<line x1="10" y1="494.5" x2="590" y2="494.5" stroke="#e3e6ee" stroke-width="1"/>
<text x="547.10" y="41.90" font-size="10.0" fill="#4a4a4a" textLength="33.60" lengthAdjust="spacingAndGlyphs" >4,800.0</text>
<text x="547.10" y="119.60" font-size="10.0" fill="#4a4a4a" textLength="33.60" lengthAdjust="spacingAndGlyphs" >4,200.0</text>
<text x="547.10" y="146.00" font-size="10.0" fill="#4a4a4a" textLength="33.60" lengthAdjust="spacingAndGlyphs" >4,000.0</text>
<rect x="540" y="65.4" width="46" height="16.8" fill="#9598a1"/>
<text x="547.10" y="76.40" font-size="10.0" fill="#131722" textLength="33.60" lengthAdjust="spacingAndGlyphs" >4,435.3</text>
<path d="M540,52.3 h44 a2,2 0 0 1 2,2 v10.6 a2,2 0 0 1 -2,2 h-44 z" fill="#1848cc"/>
<text x="547.10" y="62.20" font-size="10.0" fill="#fff" font-weight="bold" textLength="33.60" lengthAdjust="spacingAndGlyphs" >4,462.1</text>
<path d="M540,80.7 h44 a2,2 0 0 1 2,2 v9.8 a2,2 0 0 1 -2,2 h-44 z" fill="#000"/>
<text x="547.10" y="90.20" font-size="10.0" fill="#fff" font-weight="bold" textLength="33.60" lengthAdjust="spacingAndGlyphs" >4,435.0</text>
<path d="M540,119.0 h44 a2,2 0 0 1 2,2 v10.8 a2,2 0 0 1 -2,2 h-44 z" fill="#b22833"/>
<text x="547.10" y="129.00" font-size="10.0" fill="#fff" font-weight="bold" textLength="33.60" lengthAdjust="spacingAndGlyphs" >4,135.0</text>
<text x="547.20" y="624.80" font-size="10.0" fill="#4a4a4a" textLength="13.90" lengthAdjust="spacingAndGlyphs" >0.0</text>
<text x="547.20" y="663.50" font-size="10.0" fill="#4a4a4a" textLength="19.30" lengthAdjust="spacingAndGlyphs" >−2.0</text>
<text x="547.20" y="702.60" font-size="10.0" fill="#4a4a4a" textLength="19.30" lengthAdjust="spacingAndGlyphs" >−4.0</text>
<text x="30.90" y="726.40" font-size="10.0" fill="#4a4a4a" text-anchor="middle" textLength="22.50" lengthAdjust="spacingAndGlyphs" >2019</text>
<text x="92.82" y="726.40" font-size="10.0" fill="#4a4a4a" text-anchor="middle" textLength="22.50" lengthAdjust="spacingAndGlyphs" >2020</text>
<text x="154.74" y="726.40" font-size="10.0" fill="#4a4a4a" text-anchor="middle" textLength="22.50" lengthAdjust="spacingAndGlyphs" >2021</text>
<text x="216.66" y="726.40" font-size="10.0" fill="#4a4a4a" text-anchor="middle" textLength="22.50" lengthAdjust="spacingAndGlyphs" >2022</text>
<text x="278.58" y="726.40" font-size="10.0" fill="#4a4a4a" text-anchor="middle" textLength="22.50" lengthAdjust="spacingAndGlyphs" >2023</text>
<text x="340.50" y="726.40" font-size="10.0" fill="#4a4a4a" text-anchor="middle" textLength="22.50" lengthAdjust="spacingAndGlyphs" >2024</text>
<text x="402.42" y="726.40" font-size="10.0" fill="#4a4a4a" text-anchor="middle" textLength="22.50" lengthAdjust="spacingAndGlyphs" >2025</text>
<text x="464.34" y="726.40" font-size="10.0" fill="#4a4a4a" text-anchor="middle" textLength="22.50" lengthAdjust="spacingAndGlyphs" >2026</text>
<text x="526.26" y="726.40" font-size="10.0" fill="#4a4a4a" text-anchor="middle" textLength="22.50" lengthAdjust="spacingAndGlyphs" >2027</text>
<text x="1307.30" y="44.10" font-size="10.0" fill="#4a4a4a" textLength="33.30" lengthAdjust="spacingAndGlyphs" >4,700.0</text>
<text x="1307.30" y="78.23" font-size="10.0" fill="#4a4a4a" textLength="33.30" lengthAdjust="spacingAndGlyphs" >4,600.0</text>
<text x="1307.30" y="112.36" font-size="10.0" fill="#4a4a4a" textLength="33.30" lengthAdjust="spacingAndGlyphs" >4,500.0</text>
<text x="1307.30" y="146.49" font-size="10.0" fill="#4a4a4a" textLength="33.30" lengthAdjust="spacingAndGlyphs" >4,400.0</text>
<text x="1307.30" y="180.62" font-size="10.0" fill="#4a4a4a" textLength="33.30" lengthAdjust="spacingAndGlyphs" >4,300.0</text>
<text x="1307.30" y="214.75" font-size="10.0" fill="#4a4a4a" textLength="33.30" lengthAdjust="spacingAndGlyphs" >4,200.0</text>
<text x="1307.30" y="248.88" font-size="10.0" fill="#4a4a4a" textLength="33.30" lengthAdjust="spacingAndGlyphs" >4,100.0</text>
<text x="1307.30" y="283.01" font-size="10.0" fill="#4a4a4a" textLength="33.30" lengthAdjust="spacingAndGlyphs" >4,000.0</text>
<text x="1307.30" y="317.14" font-size="10.0" fill="#4a4a4a" textLength="33.30" lengthAdjust="spacingAndGlyphs" >3,900.0</text>
<text x="1307.30" y="351.27" font-size="10.0" fill="#4a4a4a" textLength="33.30" lengthAdjust="spacingAndGlyphs" >3,800.0</text>
<text x="1307.30" y="385.40" font-size="10.0" fill="#4a4a4a" textLength="33.30" lengthAdjust="spacingAndGlyphs" >3,700.0</text>
<text x="1307.30" y="419.53" font-size="10.0" fill="#4a4a4a" textLength="33.30" lengthAdjust="spacingAndGlyphs" >3,600.0</text>
<text x="1307.30" y="453.66" font-size="10.0" fill="#4a4a4a" textLength="33.30" lengthAdjust="spacingAndGlyphs" >3,500.0</text>
<text x="1307.30" y="487.79" font-size="10.0" fill="#4a4a4a" textLength="33.30" lengthAdjust="spacingAndGlyphs" >3,400.0</text>
<rect x="1300" y="110.4" width="46" height="17.1" fill="#9598a1"/>
<text x="1307.00" y="121.55" font-size="10.0" fill="#131722" textLength="33.40" lengthAdjust="spacingAndGlyphs" >4,435.3</text>
<path d="M1300,96.9 h44 a2,2 0 0 1 2,2 v11.0 a2,2 0 0 1 -2,2 h-44 z" fill="#1848cc"/>
<text x="1307.00" y="107.00" font-size="10.0" fill="#fff" font-weight="bold" textLength="33.40" lengthAdjust="spacingAndGlyphs" >4,462.1</text>
<path d="M1300,126.0 h44 a2,2 0 0 1 2,2 v10.0 a2,2 0 0 1 -2,2 h-44 z" fill="#000"/>
<text x="1307.00" y="135.60" font-size="10.0" fill="#fff" font-weight="bold" textLength="33.40" lengthAdjust="spacingAndGlyphs" >4,435.0</text>
<rect x="1300" y="169.5" width="46" height="18.0" fill="#9598a1"/>
<text x="1307.00" y="181.10" font-size="10.0" fill="#131722" textLength="33.40" lengthAdjust="spacingAndGlyphs" >4,300.0</text>
<path d="M1300,156.2 h44 a2,2 0 0 1 2,2 v10.8 a2,2 0 0 1 -2,2 h-44 z" fill="#ffa726"/>
<text x="1307.00" y="166.20" font-size="10.0" fill="#131722" textLength="33.40" lengthAdjust="spacingAndGlyphs" >4,343.7</text>
<path d="M1300,186.0 h44 a2,2 0 0 1 2,2 v10.1 a2,2 0 0 1 -2,2 h-44 z" fill="#5b9cf6"/>
<text x="1307.00" y="195.65" font-size="10.0" fill="#131722" textLength="33.40" lengthAdjust="spacingAndGlyphs" >4,287.9</text>
<path d="M1300,200.1 h44 a2,2 0 0 1 2,2 v10.7 a2,2 0 0 1 -2,2 h-44 z" fill="#000"/>
<text x="1307.00" y="210.05" font-size="10.0" fill="#fff" font-weight="bold" textLength="33.40" lengthAdjust="spacingAndGlyphs" >4,236.5</text>
<path d="M1300,218.0 h44 a2,2 0 0 1 2,2 v10.4 a2,2 0 0 1 -2,2 h-44 z" fill="#b22833"/>
<text x="1307.00" y="227.80" font-size="10.0" fill="#fff" font-weight="bold" textLength="33.40" lengthAdjust="spacingAndGlyphs" >4,164.4</text>
<path d="M1300,232.4 h44 a2,2 0 0 1 2,2 v10.2 a2,2 0 0 1 -2,2 h-44 z" fill="#b22833"/>
<text x="1307.00" y="242.10" font-size="10.0" fill="#fff" font-weight="bold" textLength="33.40" lengthAdjust="spacingAndGlyphs" >4,135.0</text>
<path d="M1300,274.1 h44 a2,2 0 0 1 2,2 v10.6 a2,2 0 0 1 -2,2 h-44 z" fill="#9598a1"/>
<text x="1307.00" y="284.00" font-size="10.0" fill="#131722" textLength="33.40" lengthAdjust="spacingAndGlyphs" >4,000.0</text>
<text x="1307.40" y="516.20" font-size="10.0" fill="#4a4a4a" textLength="29.50" lengthAdjust="spacingAndGlyphs" >100.00</text>
<text x="1307.40" y="557.60" font-size="10.0" fill="#4a4a4a" textLength="24.40" lengthAdjust="spacingAndGlyphs" >80.00</text>
<text x="1307.40" y="599.00" font-size="10.0" fill="#4a4a4a" textLength="24.40" lengthAdjust="spacingAndGlyphs" >60.00</text>
<text x="1307.40" y="640.10" font-size="10.0" fill="#4a4a4a" textLength="24.40" lengthAdjust="spacingAndGlyphs" >40.00</text>
<text x="1307.40" y="681.80" font-size="10.0" fill="#4a4a4a" textLength="24.40" lengthAdjust="spacingAndGlyphs" >20.00</text>
<path d="M1300,515.1 h34.5 a2,2 0 0 1 2,2 v10.7 a2,2 0 0 1 -2,2 h-34.5 z" fill="#0b2f9c"/>
<text x="1307.20" y="525.05" font-size="10.0" fill="#fff" font-weight="bold" textLength="25.00" lengthAdjust="spacingAndGlyphs" >96.18</text>
<path d="M1300,563.1 h34.5 a2,2 0 0 1 2,2 v10.7 a2,2 0 0 1 -2,2 h-34.5 z" fill="#1848cc"/>
<text x="1307.20" y="573.05" font-size="10.0" fill="#fff" font-weight="bold" textLength="25.00" lengthAdjust="spacingAndGlyphs" >73.08</text>
<text x="642.20" y="726.60" font-size="10.0" fill="#4a4a4a" text-anchor="middle" textLength="16.50" lengthAdjust="spacingAndGlyphs" >Sep</text>
<text x="782.60" y="726.60" font-size="10.0" fill="#4a4a4a" text-anchor="middle" textLength="15.50" lengthAdjust="spacingAndGlyphs" >Oct</text>
<text x="936.50" y="726.60" font-size="10.0" fill="#4a4a4a" text-anchor="middle" textLength="18.00" lengthAdjust="spacingAndGlyphs" >Nov</text>
<text x="1063.40" y="726.60" font-size="10.0" fill="#4a4a4a" text-anchor="middle" textLength="17.50" lengthAdjust="spacingAndGlyphs" >Dec</text>
<text x="1211.00" y="726.60" font-size="10.0" fill="#4a4a4a" text-anchor="middle" textLength="22.20" lengthAdjust="spacingAndGlyphs" >2026</text>
<text x="10.00" y="19.00" font-size="11.8" fill="#1c1c1c" textLength="386.80" lengthAdjust="spacingAndGlyphs" >Matt_Simpson created with TradingView.com, Dec 22, 2025 00:56 UTC-5</text>
<text x="18.30" y="45.70" font-size="12" fill="#5c5c5c" textLength="143.10" lengthAdjust="spacingAndGlyphs" >Gold Futures · 1M · COMEX</text>
<text x="169.70" y="45.70" font-size="12" fill="#5c5c5c" textLength="6.60" lengthAdjust="spacingAndGlyphs" >O</text>
<text x="176.30" y="45.70" font-size="12" fill="#2a2a2a" textLength="40.70" lengthAdjust="spacingAndGlyphs" >4,258.5</text>
<text x="224.80" y="45.70" font-size="12" fill="#5c5c5c" textLength="6.90" lengthAdjust="spacingAndGlyphs" >H</text>
<text x="231.70" y="45.70" font-size="12" fill="#2a2a2a" textLength="40.70" lengthAdjust="spacingAndGlyphs" >4,442.8</text>
<text x="280.50" y="45.70" font-size="12" fill="#5c5c5c" textLength="5.20" lengthAdjust="spacingAndGlyphs" >L</text>
<text x="285.70" y="45.70" font-size="12" fill="#2a2a2a" textLength="40.60" lengthAdjust="spacingAndGlyphs" >4,194.0</text>
<text x="333.60" y="45.70" font-size="12" fill="#5c5c5c" textLength="5.90" lengthAdjust="spacingAndGlyphs" >C</text>
<text x="339.50" y="45.70" font-size="12" fill="#2a2a2a" textLength="40.40" lengthAdjust="spacingAndGlyphs" >4,435.0</text>
<text x="388.90" y="45.70" font-size="12" fill="#2a2a2a" textLength="83.70" lengthAdjust="spacingAndGlyphs" >+180.1 (+4.23%)</text>
<text x="604.30" y="45.80" font-size="12" fill="#5c5c5c" textLength="141.80" lengthAdjust="spacingAndGlyphs" >Gold Futures · 1D · COMEX</text>
<text x="754.40" y="45.80" font-size="12" fill="#5c5c5c" textLength="6.60" lengthAdjust="spacingAndGlyphs" >O</text>
<text x="761.00" y="45.80" font-size="12" fill="#2a2a2a" textLength="40.50" lengthAdjust="spacingAndGlyphs" >4,369.9</text>
<text x="809.60" y="45.80" font-size="12" fill="#5c5c5c" textLength="6.90" lengthAdjust="spacingAndGlyphs" >H</text>
<text x="816.50" y="45.80" font-size="12" fill="#2a2a2a" textLength="40.30" lengthAdjust="spacingAndGlyphs" >4,442.8</text>
<text x="865.30" y="45.80" font-size="12" fill="#5c5c5c" textLength="5.10" lengthAdjust="spacingAndGlyphs" >L</text>
<text x="870.40" y="45.80" font-size="12" fill="#2a2a2a" textLength="40.10" lengthAdjust="spacingAndGlyphs" >4,367.9</text>
<text x="918.70" y="45.80" font-size="12" fill="#5c5c5c" textLength="5.90" lengthAdjust="spacingAndGlyphs" >C</text>
<text x="924.60" y="45.80" font-size="12" fill="#2a2a2a" textLength="40.90" lengthAdjust="spacingAndGlyphs" >4,435.0</text>
<text x="973.40" y="45.80" font-size="12" fill="#2a2a2a" textLength="77.90" lengthAdjust="spacingAndGlyphs" >+47.7 (+1.09%)</text>
<text x="604.30" y="62.70" font-size="12" fill="#5c5c5c" textLength="55.20" lengthAdjust="spacingAndGlyphs" >MA Ribbon</text>
<text x="667.00" y="62.70" font-size="12" fill="#ff9800" textLength="40.00" lengthAdjust="spacingAndGlyphs" >4,343.7</text>
<text x="714.70" y="62.70" font-size="12" fill="#4f93ee" textLength="40.20" lengthAdjust="spacingAndGlyphs" >4,287.9</text>
<text x="762.60" y="62.70" font-size="12" fill="#b22833" textLength="39.90" lengthAdjust="spacingAndGlyphs" >4,164.4</text>
<text x="18.00" y="513.80" font-size="12" fill="#5c5c5c" textLength="140.00" lengthAdjust="spacingAndGlyphs" >Consecutive Candle Count</text>
<text x="165.70" y="513.80" font-size="12" fill="#2a2a2a" textLength="16.60" lengthAdjust="spacingAndGlyphs" >0.0</text>
<text x="190.00" y="513.80" font-size="12" fill="#2a9494" textLength="16.30" lengthAdjust="spacingAndGlyphs" >5.0</text>
<defs><clipPath id="c8"><rect x="680" y="191.8" width="30" height="20"/></clipPath></defs>
<rect x="471" y="165" width="246" height="427" fill="#fff" stroke="#000" stroke-width="2"/>
<rect x="625" y="193.6" width="49.8" height="196.7" fill="#d6e9de"/>
<rect x="625" y="390.3" width="49.8" height="148.6" fill="#f1d6d9"/>
<line x1="478.2" y1="193.5" x2="674.8" y2="193.5" stroke="#d9d9d9" stroke-width="1"/>
<line x1="478.2" y1="242.5" x2="674.8" y2="242.5" stroke="#d9d9d9" stroke-width="1"/>
<line x1="478.2" y1="291.5" x2="674.8" y2="291.5" stroke="#d9d9d9" stroke-width="1"/>
<line x1="478.2" y1="341.5" x2="674.8" y2="341.5" stroke="#d9d9d9" stroke-width="1"/>
<line x1="478.2" y1="439.5" x2="674.8" y2="439.5" stroke="#d9d9d9" stroke-width="1"/>
<line x1="478.2" y1="488.5" x2="674.8" y2="488.5" stroke="#d9d9d9" stroke-width="1"/>
<line x1="478.2" y1="537.5" x2="674.8" y2="537.5" stroke="#d9d9d9" stroke-width="1"/>
<line x1="478.5" y1="193.6" x2="478.5" y2="537.3" stroke="#d9d9d9" stroke-width="1"/>
<line x1="528.5" y1="193.6" x2="528.5" y2="537.3" stroke="#d9d9d9" stroke-width="1"/>
<line x1="576.5" y1="193.6" x2="576.5" y2="537.3" stroke="#d9d9d9" stroke-width="1"/>
<line x1="625.5" y1="193.6" x2="625.5" y2="537.3" stroke="#d9d9d9" stroke-width="1"/>
<line x1="674.5" y1="193.6" x2="674.5" y2="537.3" stroke="#d9d9d9" stroke-width="1"/>
<rect x="493.4" y="352.4" width="26.3" height="40.4" fill="#000" opacity="0.45" filter="url(#sh2)"/>
<rect x="541.7" y="391.3" width="25.7" height="1.5" fill="#000" opacity="0.45" filter="url(#sh2)"/>
<rect x="591.2" y="375.6" width="25.9" height="17.2" fill="#000" opacity="0.45" filter="url(#sh2)"/>
<rect x="639.5" y="365.7" width="26.2" height="27.1" fill="#000" opacity="0.45" filter="url(#sh2)"/>
<defs><filter id="sh2" x="-30%" y="-30%" width="160%" height="160%"><feGaussianBlur stdDeviation="1.5"/></filter></defs>
<rect x="490.9" y="349.9" width="26.3" height="40.4" fill="#00a650"/>
<rect x="539.2" y="388.8" width="25.7" height="1.5" fill="#00a650"/>
<rect x="588.7" y="373.1" width="25.9" height="17.2" fill="#00a650"/>
<rect x="637.0" y="363.2" width="26.2" height="27.1" fill="#00a650"/>
<line x1="478.2" y1="390.5" x2="674.8" y2="390.5" stroke="#808080" stroke-width="1"/>
<rect x="496.7" y="377.8" width="14.3" height="2.6" fill="#1f2a6b"/>
<rect x="545.6" y="394.7" width="14.6" height="2.6" fill="#1f2a6b"/>
<rect x="594.5" y="384.2" width="14.5" height="2.6" fill="#1f2a6b"/>
<rect x="642.8" y="363.5" width="14.6" height="2.6" fill="#1f2a6b"/>
<circle cx="503.6" cy="250.5" r="2.8" fill="#0f6fc6"/>
<circle cx="552.2" cy="293.3" r="2.8" fill="#0f6fc6"/>
<circle cx="601.4" cy="286.4" r="2.8" fill="#0f6fc6"/>
<circle cx="650" cy="272.9" r="2.8" fill="#0f6fc6"/>
<circle cx="503.6" cy="493.7" r="2.8" fill="#c00000"/>
<circle cx="552.2" cy="463.3" r="2.8" fill="#c00000"/>
<circle cx="601.4" cy="474.4" r="2.8" fill="#c00000"/>
<circle cx="650" cy="461.7" r="2.8" fill="#c00000"/>
<text x="497.30" y="181.20" font-size="13.6" fill="#000" font-weight="bold" textLength="212.60" lengthAdjust="spacingAndGlyphs" >GOLD : Average Returns ( 50 yrs)</text>
<text x="682.50" y="196.58" font-size="8.3" fill="#000" textLength="19.80" lengthAdjust="spacingAndGlyphs" clip-path="url(#c8)">8.0%</text>
<text x="682.50" y="245.76" font-size="8.3" fill="#000" textLength="19.80" lengthAdjust="spacingAndGlyphs" >6.0%</text>
<text x="682.50" y="294.94" font-size="8.3" fill="#000" textLength="19.80" lengthAdjust="spacingAndGlyphs" >4.0%</text>
<text x="682.50" y="344.12" font-size="8.3" fill="#000" textLength="19.80" lengthAdjust="spacingAndGlyphs" >2.0%</text>
<text x="682.50" y="393.30" font-size="8.3" fill="#000" textLength="19.80" lengthAdjust="spacingAndGlyphs" >0.0%</text>
<text x="682.50" y="442.30" font-size="8.3" fill="#ff0000" font-weight="bold" textLength="22.90" lengthAdjust="spacingAndGlyphs" >-2.0%</text>
<text x="682.50" y="491.30" font-size="8.3" fill="#ff0000" font-weight="bold" textLength="22.90" lengthAdjust="spacingAndGlyphs" >-4.0%</text>
<text x="682.50" y="540.30" font-size="8.3" fill="#ff0000" font-weight="bold" textLength="22.90" lengthAdjust="spacingAndGlyphs" >-6.0%</text>
<text x="650.00" y="262.80" font-size="8.6" fill="#2e75b6" text-anchor="middle" textLength="24.00" lengthAdjust="spacingAndGlyphs" >4.78%</text>
<text x="650.00" y="477.40" font-size="8.6" fill="#ff0000" text-anchor="middle" font-weight="bold" textLength="26.80" lengthAdjust="spacingAndGlyphs" >-2.90%</text>
<text x="503.60" y="553.60" font-size="9.3" fill="#000" text-anchor="middle" >Sep</text>
<text x="552.20" y="553.60" font-size="9.3" fill="#000" text-anchor="middle" >Oct</text>
<text x="601.40" y="553.60" font-size="9.3" fill="#000" text-anchor="middle" >Nov</text>
<text x="650.00" y="553.60" font-size="9.3" fill="#000" text-anchor="middle" >Dec</text>
<rect x="485.1" y="562.7" width="4.9" height="4.3" fill="#00a650"/>
<text x="492.60" y="566.70" font-size="8" fill="#595959" textLength="63.20" lengthAdjust="spacingAndGlyphs" >All-time average</text>
<line x1="566.3" y1="564.5" x2="571.8" y2="564.5" stroke="#1f2a6b" stroke-width="1"/>
<text x="573.70" y="566.70" font-size="8" fill="#595959" textLength="29.30" lengthAdjust="spacingAndGlyphs" >Median</text>
<circle cx="616" cy="564.6" r="2.6" fill="#c00000"/>
<text x="620.70" y="566.70" font-size="8" fill="#595959" textLength="19.30" lengthAdjust="spacingAndGlyphs" >Avg -</text>
<circle cx="653.3" cy="564.6" r="2.6" fill="#0f6fc6"/>
<text x="658.00" y="566.70" font-size="8" fill="#595959" textLength="21.00" lengthAdjust="spacingAndGlyphs" >Avg +</text>
<defs><clipPath id="cs"><rect x="480" y="574.6" width="100" height="12"/></clipPath></defs>
<text x="487.60" y="580.60" font-size="10.3" fill="#b5b5b5" font-style="italic" textLength="63.00" lengthAdjust="spacingAndGlyphs" clip-path="url(#cs)">Source:  LSEG</text>
<path d="M12,759.1 h11.8 v14.7 h-5.9 v-8.8 h-5.9 z" fill="#131313"/>
<circle cx="29.1" cy="762" r="2.7" fill="#131313"/>
<path d="M34.1,759.1 h7.8 l-5.6,14.7 h-7.4 z" fill="#131313"/>
<text x="49.20" y="773.80" font-size="20.5" fill="#131313" font-weight="bold" textLength="120.50" lengthAdjust="spacingAndGlyphs" >TradingView</text>
</svg>
</body></html>
